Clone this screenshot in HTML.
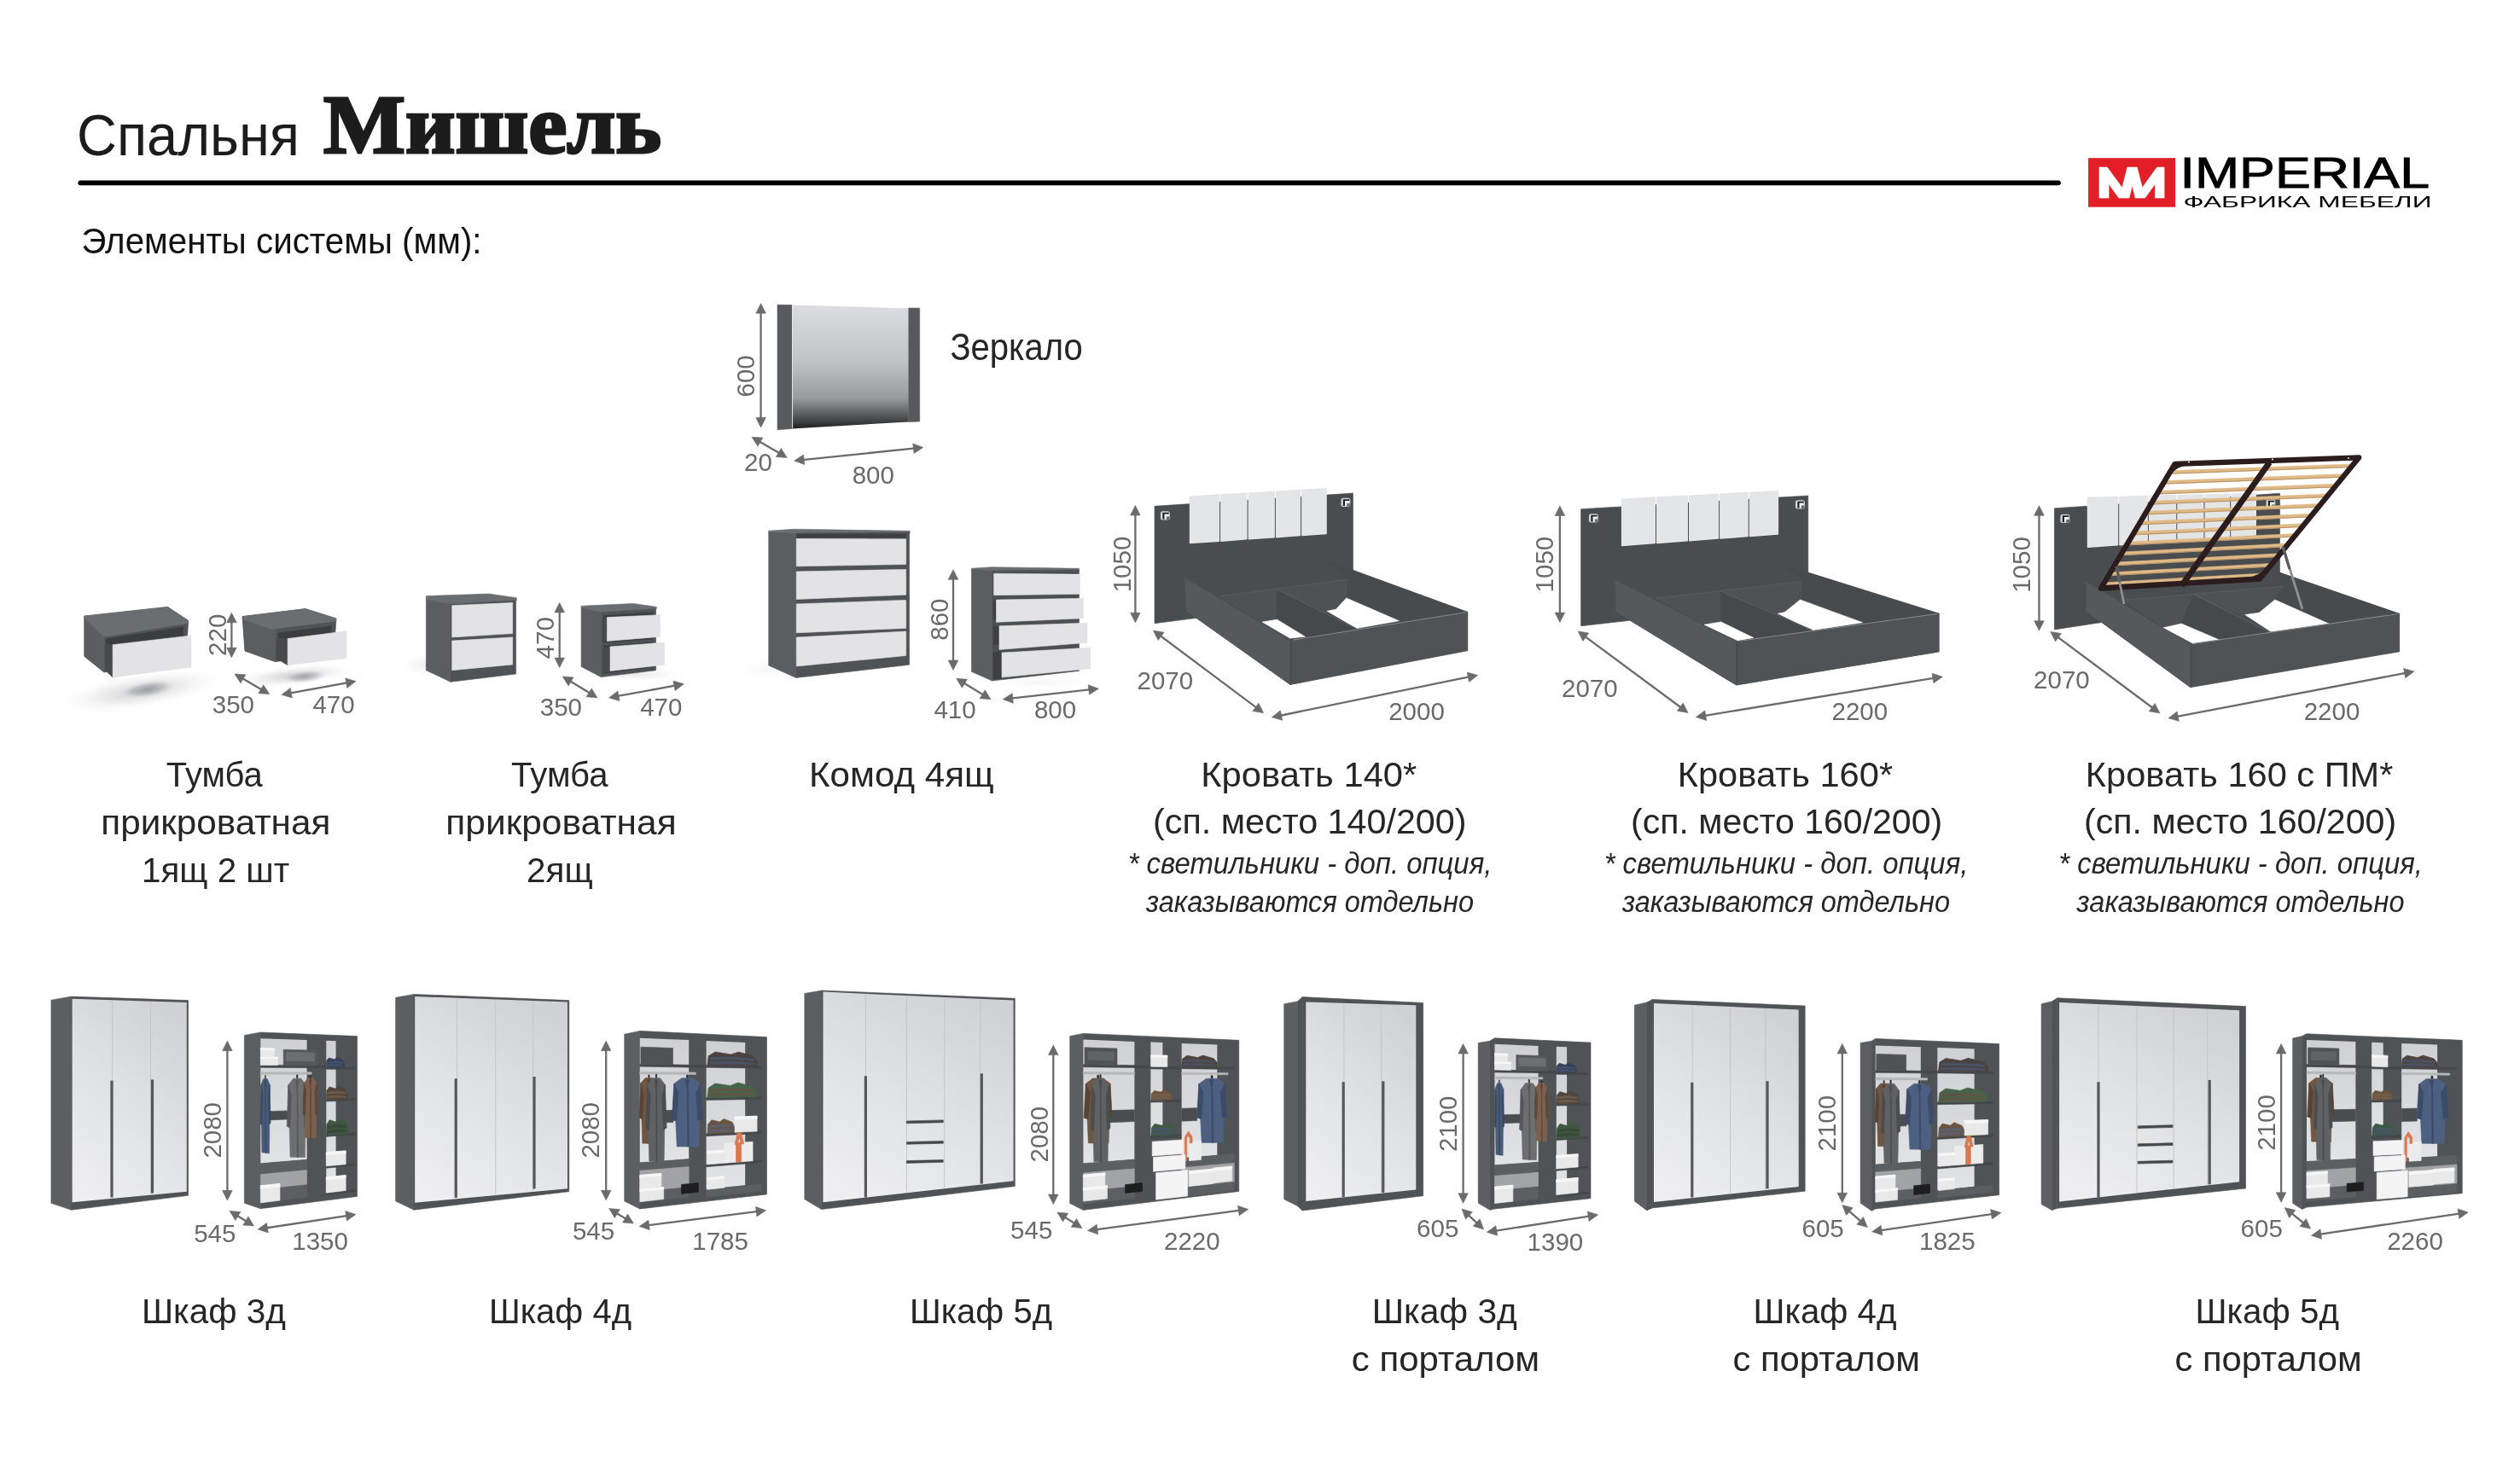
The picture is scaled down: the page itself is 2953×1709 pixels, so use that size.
<!DOCTYPE html>
<html><head><meta charset="utf-8"><style>
html,body{margin:0;padding:0;background:#fff;width:2953px;height:1709px;overflow:hidden}
svg{position:absolute;left:0;top:0;display:block;will-change:transform}
.l,.d{font-family:"Liberation Sans",sans-serif}
.li{font-family:"Liberation Sans",sans-serif;font-style:italic}
.t{font-family:"Liberation Serif",serif;font-weight:bold}
</style></head><body>
<svg width="2953" height="1709" viewBox="0 0 2953 1709">
<defs><radialGradient id="sh"><stop offset="0" stop-color="#9c9c9e" stop-opacity="0.85"/><stop offset="0.5" stop-color="#c8c8ca" stop-opacity="0.5"/><stop offset="1" stop-color="#ffffff" stop-opacity="0"/></radialGradient><radialGradient id="shc"><stop offset="0" stop-color="#9a9ba0" stop-opacity="1"/><stop offset="0.5" stop-color="#aeafb3" stop-opacity="0.6"/><stop offset="1" stop-color="#ffffff" stop-opacity="0"/></radialGradient></defs>
<text x="90" y="182" font-size="69" fill="#1c1c1c" class="l" textLength="261" lengthAdjust="spacingAndGlyphs">Спальня</text>
<text x="379" font-size="98" fill="#1c1c1c" class="t" stroke="#1c1c1c" stroke-width="3" y="178.9" textLength="396" lengthAdjust="spacingAndGlyphs">Мишель</text>
<line x1="94.3" y1="214.3" x2="2412" y2="214.3" stroke="#000" stroke-width="5.8" stroke-linecap="round"/>
<text x="95.5" y="297.1" font-size="42.5" fill="#111" class="l" textLength="469" lengthAdjust="spacingAndGlyphs">Элементы системы (мм):</text>
<rect x="2447.1" y="185.2" width="102" height="57.5" fill="#e21e26"/>
<polygon points="2460,196.1 2469.3,196.1 2486.8,220 2492.9,196.1 2504.3,196.1 2510.4,220 2527.5,196.1 2536.1,196.1 2536.1,232.1 2525.4,232.1 2525.4,215.7 2513.6,232.1 2502.1,232.1 2498.6,217.5 2495,232.1 2482.9,232.1 2471.1,215.7 2471.1,232.1 2460,232.1" fill="#fff" stroke="#fff" stroke-width="0.6"/>
<text x="2554.5" y="220.1" font-size="50" fill="#000" class="l" stroke="#000" stroke-width="0.9" textLength="292.5" lengthAdjust="spacingAndGlyphs">IMPERIAL</text>
<text x="2558.5" y="242.7" font-size="19" fill="#000" class="l" textLength="291" lengthAdjust="spacingAndGlyphs">ФАБРИКА МЕБЕЛИ</text>
<ellipse cx="165" cy="810" rx="105" ry="22" fill="url(#sh)" opacity="0.6" transform="rotate(-9 165 810)"/>
<ellipse cx="173" cy="808" rx="38" ry="11" fill="url(#shc)" opacity="1" transform="rotate(-9 173 808)"/>
<polygon points="98.9,722.1 196.4,711.4 220.7,727.4 218,772 122,788 98.9,769.3" fill="#505355" stroke="#505355" stroke-width="0.6"/>
<polygon points="98.9,722.1 122,745 122,788 98.9,769.3" fill="#5b5e60" stroke="#5b5e60" stroke-width="0.6"/>
<polygon points="98.9,722.1 196.4,711.4 220.7,727.4 220.7,730.5 122,746.5 98.9,724.5" fill="#6b6e70" stroke="#6b6e70" stroke-width="0.6"/>
<polygon points="124.5,749 214.5,735 214.5,772 124.5,786" fill="#3b3d3f" stroke="#3b3d3f" stroke-width="0.6"/>
<polygon points="123.6,755 132.1,755.7 132.1,794 123.6,786" fill="#47494b" stroke="#47494b" stroke-width="0.6"/>
<polygon points="132.1,755.7 224,745 224,782.1 132.1,794" fill="#e3e3e5" stroke="#e3e3e5" stroke-width="0.6"/>
<ellipse cx="345" cy="792" rx="75" ry="13" fill="url(#sh)" opacity="0.6" transform="rotate(-6 345 792)"/>
<ellipse cx="357" cy="793" rx="30" ry="8" fill="url(#shc)" opacity="0.9" transform="rotate(-6 357 793)"/>
<polygon points="284,722.6 357.9,713.6 394,725 391.4,765 322.9,775.7 287,762.9" fill="#505355" stroke="#505355" stroke-width="0.6"/>
<polygon points="284.5,723 322.9,735 322.9,775.7 287,762.9" fill="#5b5e60" stroke="#5b5e60" stroke-width="0.6"/>
<polygon points="284,722.6 357.9,713.6 394,725 394,728 318.4,737.4 284,725.7" fill="#6b6e70" stroke="#6b6e70" stroke-width="0.6"/>
<polygon points="326,742 388,734 388,766 326,774" fill="#3b3d3f" stroke="#3b3d3f" stroke-width="0.6"/>
<polygon points="324.3,747.9 337.1,748.6 337.1,779.7 324.3,772" fill="#47494b" stroke="#47494b" stroke-width="0.6"/>
<polygon points="337.1,748.6 406,739.7 406,771.4 337.1,779.7" fill="#e3e3e5" stroke="#e3e3e5" stroke-width="0.6"/>
<ellipse cx="498" cy="780" rx="30" ry="14" fill="url(#sh)" opacity="0.2" transform="rotate(0 498 780)"/>
<polygon points="499.3,698.6 572.9,696 605.4,700.7 605.4,703.6 527.9,707.9 499.3,702.9" fill="#6b6e70" stroke="#6b6e70" stroke-width="0.6"/>
<polygon points="499.3,702.9 527.9,707.9 527.9,799.3 499.3,785.7" fill="#5b5e60" stroke="#5b5e60" stroke-width="0.6"/>
<polygon points="527.9,707.9 604.6,703.6 604.6,790 527.9,799.3" fill="#505355" stroke="#505355" stroke-width="0.6"/>
<polygon points="529.7,709.7 600.7,706.5 600.7,742.6 529.7,746.9" fill="#e3e3e5" stroke="#e3e3e5" stroke-width="0.6"/>
<polygon points="529.7,751.1 600.7,746.9 600.7,778.9 529.7,785.7" fill="#e3e3e5" stroke="#e3e3e5" stroke-width="0.6"/>
<ellipse cx="740" cy="790" rx="70" ry="9" fill="url(#sh)" opacity="0.3" transform="rotate(0 740 790)"/>
<polygon points="681.1,710.3 742,707.4 769.3,711.4 769.3,713.6 704.3,717.4 681.1,712.5" fill="#6b6e70" stroke="#6b6e70" stroke-width="0.6"/>
<polygon points="681.1,712.5 704.3,717.4 704.3,793.6 681.1,781.4" fill="#5b5e60" stroke="#5b5e60" stroke-width="0.6"/>
<polygon points="704.3,717.4 768.6,713.6 768.6,785.7 704.3,793.6" fill="#505355" stroke="#505355" stroke-width="0.6"/>
<polygon points="707.5,721.5 765,718 765,749 707.5,753" fill="#3b3d3f" stroke="#3b3d3f" stroke-width="0.6"/>
<polygon points="707.5,757 765,753 765,782 707.5,789" fill="#3b3d3f" stroke="#3b3d3f" stroke-width="0.6"/>
<polygon points="705.5,727 711.4,723.6 711.4,751.4 705.5,752" fill="#47494b" stroke="#47494b" stroke-width="0.6"/>
<polygon points="706,760 715,757.9 715,786.4 706,789" fill="#47494b" stroke="#47494b" stroke-width="0.6"/>
<polygon points="711.4,723.6 773.6,720.7 773.6,746.4 711.4,751.4" fill="#e3e3e5" stroke="#e3e3e5" stroke-width="0.6"/>
<polygon points="715,757.9 778.6,753.1 778.6,779.3 715,786.4" fill="#e3e3e5" stroke="#e3e3e5" stroke-width="0.6"/>
<defs><linearGradient id="mg" x1="0" y1="0" x2="0" y2="1"><stop offset="0" stop-color="#dcdde0"/><stop offset="0.45" stop-color="#c2c3c6"/><stop offset="0.75" stop-color="#9a9b9e"/><stop offset="0.92" stop-color="#4a4b4d"/><stop offset="1" stop-color="#1e1f20"/></linearGradient></defs>
<polygon points="911,357.3 928,357.5 928,502.5 911,503.8" fill="#575b5d" stroke="#575b5d" stroke-width="0.6"/>
<polygon points="928,357.5 1064.8,361.4 1064.8,494.5 928,502.5" fill="url(#mg)"/>
<line x1="928.6" y1="358" x2="928.6" y2="502" stroke="#e8e8e8" stroke-width="1"/>
<polygon points="1064.8,361 1077.7,361.2 1077.7,494 1064.8,494.5" fill="#565a5c" stroke="#565a5c" stroke-width="0.6"/>
<ellipse cx="905" cy="785" rx="60" ry="14" fill="url(#sh)" opacity="0.1" transform="rotate(0 905 785)"/>
<polygon points="900.7,622.3 929.7,620.2 1066.2,622.3 1066.2,625.5 932.8,626 900.7,624.5" fill="#6b6e70" stroke="#6b6e70" stroke-width="0.6"/>
<polygon points="900.7,624 932.8,625.5 932.8,794.4 900.7,780" fill="#5b5e60" stroke="#5b5e60" stroke-width="0.6"/>
<polygon points="932.8,625 1065.6,624 1065.6,779.2 932.8,794.4" fill="#505355" stroke="#505355" stroke-width="0.6"/>
<polygon points="934,626 1061.7,626 1061.7,630 934,630" fill="#3e4042" stroke="#3e4042" stroke-width="0.6"/>
<polygon points="933.3,631.5 1061.7,631.7 1061.7,661.5 933.3,663.8" fill="#e3e3e5" stroke="#e3e3e5" stroke-width="0.6"/>
<polygon points="933.3,669.9 1061.7,667.4 1061.7,697.2 933.3,702.5" fill="#e3e3e5" stroke="#e3e3e5" stroke-width="0.6"/>
<polygon points="933.3,707.9 1061.7,703.4 1061.7,736.4 933.3,741.8" fill="#e3e3e5" stroke="#e3e3e5" stroke-width="0.6"/>
<polygon points="933.3,747.1 1061.7,740 1061.7,768.5 933.3,781" fill="#e3e3e5" stroke="#e3e3e5" stroke-width="0.6"/>
<ellipse cx="1220" cy="800" rx="80" ry="8" fill="url(#sh)" opacity="0.1" transform="rotate(0 1220 800)"/>
<polygon points="1138.4,666.3 1162,664.7 1264.5,666.3 1264.5,669 1162.5,670 1138.4,668" fill="#6b6e70" stroke="#6b6e70" stroke-width="0.6"/>
<polygon points="1138.4,667.5 1162.5,669.5 1162.5,798 1138.4,787.3" fill="#5b5e60" stroke="#5b5e60" stroke-width="0.6"/>
<polygon points="1162.5,669 1264.5,668 1264.5,786.4 1162.5,798" fill="#505355" stroke="#505355" stroke-width="0.6"/>
<polygon points="1164,672 1262,671.5 1262,785 1164,796" fill="#3d3f41" stroke="#3d3f41" stroke-width="0.6"/>
<polygon points="1164,698 1262,696 1262,700 1164,703" fill="#4d5052" stroke="#4d5052" stroke-width="0.6"/>
<polygon points="1164,727 1262,725 1262,731 1164,734" fill="#4d5052" stroke="#4d5052" stroke-width="0.6"/>
<polygon points="1164,756 1262,754 1262,761 1164,764" fill="#4d5052" stroke="#4d5052" stroke-width="0.6"/>
<polygon points="1164.6,672.2 1265.6,673.1 1265.6,696.3 1164.6,697.7" fill="#e3e3e5" stroke="#e3e3e5" stroke-width="0.6"/>
<polygon points="1167.5,703.1 1269.5,701.3 1269.5,724.8 1167.5,729.3" fill="#e3e3e5" stroke="#e3e3e5" stroke-width="0.6"/>
<polygon points="1171,733.8 1274,730.2 1274,753.4 1171,761.4" fill="#e3e3e5" stroke="#e3e3e5" stroke-width="0.6"/>
<polygon points="1174,765 1277.9,759.3 1277.9,783.7 1174,794" fill="#e3e3e5" stroke="#e3e3e5" stroke-width="0.6"/>
<polygon points="1353,593.3 1585.5,578.1 1585.5,700 1400.8,724.6 1353,730.7" fill="#4a4d4f" stroke="#4a4d4f" stroke-width="0.6"/>
<polygon points="1394.6,582.2 1428.3,580.1 1428.3,634.1 1394.6,636.5" fill="#e4e5e7" stroke="#e4e5e7" stroke-width="1.6" stroke-linejoin="round"/>
<polygon points="1430.9,580.1 1460.8,578.2 1460.8,631.8 1430.9,634.1" fill="#e4e5e7" stroke="#e4e5e7" stroke-width="1.6" stroke-linejoin="round"/>
<polygon points="1463.4,578.2 1493.1,576.3 1493.1,629.6 1463.4,631.8" fill="#e4e5e7" stroke="#e4e5e7" stroke-width="1.6" stroke-linejoin="round"/>
<polygon points="1495.7,576.3 1523.3,574.5 1523.3,627.4 1495.7,629.6" fill="#e4e5e7" stroke="#e4e5e7" stroke-width="1.6" stroke-linejoin="round"/>
<polygon points="1525.9,574.5 1554,572.8 1554,625.4 1525.9,627.4" fill="#e4e5e7" stroke="#e4e5e7" stroke-width="1.6" stroke-linejoin="round"/>
<rect x="1360.6" y="599.9" width="9.6" height="9" rx="1.8" fill="#f0f0f0" stroke="#c9cacb" stroke-width="1.4"/>
<path d="M1362.3 600.7 h7.4 v1.9 h-5.2 v5.8 h-2.2 z" fill="#1e1f20"/>
<rect x="1366.8" y="605.4" width="3.6" height="3.8" fill="#6a6d6f"/>
<rect x="1572.1" y="584.4" width="9.6" height="9" rx="1.8" fill="#f0f0f0" stroke="#c9cacb" stroke-width="1.4"/>
<path d="M1573.8 585.2 h7.4 v1.9 h-5.2 v5.8 h-2.2 z" fill="#1e1f20"/>
<rect x="1578.3" y="589.9" width="3.6" height="3.8" fill="#6a6d6f"/>
<polygon points="1388,677.3 1556.1,657.7 1719.7,717.4 1719.7,762.6 1511.9,802.4 1390.5,716.3" fill="#4a4d4f" stroke="#4a4d4f" stroke-width="0.6"/>
<polygon points="1556.1,657.7 1719.7,717.4 1682.7,722.3 1641.4,728.1 1577.4,700.7 1578.8,696.6 1578.8,679.2" fill="#484b4d" stroke="#484b4d" stroke-width="0.6"/>
<polygon points="1429.3,699 1578.8,679.2 1578.8,696.6 1561.7,715.6 1554.6,717.3 1496.3,690.7 1496.2,727.2 1479.1,730.6" fill="#4f5254" stroke="#4f5254" stroke-width="0.6"/>
<polygon points="1496.3,690.7 1590.2,737.2 1529.7,746.3 1496.2,727.2" fill="#46494b" stroke="#46494b" stroke-width="0.6"/>
<polygon points="1479,729.1 1496.5,726.2 1529.4,746.2 1511.9,748.2" fill="#ffffff" stroke="#ffffff" stroke-width="0.6"/>
<polygon points="1555.1,716.3 1565.4,714.3 1577.7,700.9 1639.4,727.7 1590,736.5" fill="#ffffff" stroke="#ffffff" stroke-width="0.6"/>
<line x1="1496.3" y1="690.7" x2="1590.2" y2="737.2" stroke="#5f6264" stroke-width="1"/>
<line x1="1429.3" y1="699" x2="1578.8" y2="679.2" stroke="#5a5d5f" stroke-width="1"/>
<polygon points="1388,677.3 1511.9,751.3 1511.9,802.4 1390.5,716.3" fill="#56595b" stroke="#56595b" stroke-width="0.6"/>
<polygon points="1511.9,751.3 1719.7,717.4 1719.7,762.6 1511.9,802.4" fill="#505355" stroke="#505355" stroke-width="0.6"/>
<line x1="1515.9" y1="750.1" x2="1717.7" y2="717.7" stroke="#84878a" stroke-width="1.1"/>
<line x1="1512.9" y1="752.3" x2="1512.9" y2="801" stroke="#46494b" stroke-width="1.5"/>
<polygon points="1852.6,596.7 2118.8,581 2118.8,700 1912,727.1 1852.6,733.8" fill="#4a4d4f" stroke="#4a4d4f" stroke-width="0.6"/>
<polygon points="1900.7,585.2 1939.2,583.1 1939.2,636.5 1900.7,639.4" fill="#e4e5e7" stroke="#e4e5e7" stroke-width="1.6" stroke-linejoin="round"/>
<polygon points="1941.8,583.1 1977.2,581.2 1977.2,633.7 1941.8,636.5" fill="#e4e5e7" stroke="#e4e5e7" stroke-width="1.6" stroke-linejoin="round"/>
<polygon points="1979.8,581.2 2013.3,579.3 2013.3,631 1979.8,633.7" fill="#e4e5e7" stroke="#e4e5e7" stroke-width="1.6" stroke-linejoin="round"/>
<polygon points="2015.9,579.3 2048,577.5 2048,628.5 2015.9,631" fill="#e4e5e7" stroke="#e4e5e7" stroke-width="1.6" stroke-linejoin="round"/>
<polygon points="2050.6,577.5 2083.3,575.7 2083.3,626 2050.6,628.5" fill="#e4e5e7" stroke="#e4e5e7" stroke-width="1.6" stroke-linejoin="round"/>
<rect x="1862.6" y="602.9" width="9.6" height="9" rx="1.8" fill="#f0f0f0" stroke="#c9cacb" stroke-width="1.4"/>
<path d="M1864.3 603.7 h7.4 v1.9 h-5.2 v5.8 h-2.2 z" fill="#1e1f20"/>
<rect x="1868.8" y="608.4" width="3.6" height="3.8" fill="#6a6d6f"/>
<rect x="2104.6" y="586.9" width="9.6" height="9" rx="1.8" fill="#f0f0f0" stroke="#c9cacb" stroke-width="1.4"/>
<path d="M2106.3 587.7 h7.4 v1.9 h-5.2 v5.8 h-2.2 z" fill="#1e1f20"/>
<rect x="2110.8" y="592.4" width="3.6" height="3.8" fill="#6a6d6f"/>
<polygon points="1893,680.1 2085,660.6 2272.1,719.2 2272.1,763.9 2034.6,803 1893,716.7" fill="#4a4d4f" stroke="#4a4d4f" stroke-width="0.6"/>
<polygon points="2085,660.6 2272.1,719.2 2229.8,724 2182.6,729.7 2109.4,702.9 2111,698.8 2111,681.7" fill="#484b4d" stroke="#484b4d" stroke-width="0.6"/>
<polygon points="1940.2,701.3 2111,681.7 2111,698.8 2091.5,717.5 2083.4,719.2 2016.7,693.1 2016.7,728.9 1997.1,732.2" fill="#4f5254" stroke="#4f5254" stroke-width="0.6"/>
<polygon points="2016.7,693.1 2124.1,738.7 2054.9,747.6 2016.7,728.9" fill="#46494b" stroke="#46494b" stroke-width="0.6"/>
<polygon points="1997.1,732.2 2016.7,728.9 2054.9,747.6 2036.2,750.9" fill="#ffffff" stroke="#ffffff" stroke-width="0.6"/>
<polygon points="2083.4,719.2 2091.5,717.5 2109.4,702.9 2182.6,729.7 2124.1,738.7" fill="#ffffff" stroke="#ffffff" stroke-width="0.6"/>
<line x1="2016.7" y1="693.1" x2="2124.1" y2="738.7" stroke="#5f6264" stroke-width="1"/>
<line x1="1940.2" y1="701.3" x2="2111" y2="681.7" stroke="#5a5d5f" stroke-width="1"/>
<polygon points="1893,680.1 2034.6,752.5 2034.6,803 1893,716.7" fill="#56595b" stroke="#56595b" stroke-width="0.6"/>
<polygon points="2034.6,752.5 2272.1,719.2 2272.1,763.9 2034.6,803" fill="#505355" stroke="#505355" stroke-width="0.6"/>
<line x1="2038.6" y1="751.3" x2="2270.1" y2="719.5" stroke="#84878a" stroke-width="1.1"/>
<line x1="2035.6" y1="753.5" x2="2035.6" y2="801.7" stroke="#46494b" stroke-width="1.5"/>
<polygon points="2407.4,595.8 2671.6,578.3 2671.6,700 2460,730 2407.4,738" fill="#4a4d4f" stroke="#4a4d4f" stroke-width="0.6"/>
<polygon points="2446.6,583.4 2481.4,582.5 2481.4,638.7 2446.6,641.3" fill="#e4e5e7" stroke="#e4e5e7" stroke-width="1.6" stroke-linejoin="round"/>
<polygon points="2484,582.5 2516.1,581.6 2516.1,636.2 2484,638.7" fill="#e4e5e7" stroke="#e4e5e7" stroke-width="1.6" stroke-linejoin="round"/>
<polygon points="2518.7,581.6 2549.5,580.8 2549.5,633.7 2518.7,636.2" fill="#e4e5e7" stroke="#e4e5e7" stroke-width="1.6" stroke-linejoin="round"/>
<polygon points="2552.1,580.8 2581.7,580 2581.7,631.4 2552.1,633.7" fill="#e4e5e7" stroke="#e4e5e7" stroke-width="1.6" stroke-linejoin="round"/>
<polygon points="2584.3,580 2612.4,579.2 2612.4,629.1 2584.3,631.4" fill="#e4e5e7" stroke="#e4e5e7" stroke-width="1.6" stroke-linejoin="round"/>
<polygon points="2615,579.2 2643.2,578.5 2643.2,627 2615,629.1" fill="#e4e5e7" stroke="#e4e5e7" stroke-width="1.6" stroke-linejoin="round"/>
<rect x="2415.1" y="603.4" width="9.6" height="9" rx="1.8" fill="#f0f0f0" stroke="#c9cacb" stroke-width="1.4"/>
<path d="M2416.8 604.2 h7.4 v1.9 h-5.2 v5.8 h-2.2 z" fill="#1e1f20"/>
<rect x="2421.3" y="608.9" width="3.6" height="3.8" fill="#6a6d6f"/>
<rect x="2656.1" y="585.9" width="9.6" height="9" rx="1.8" fill="#f0f0f0" stroke="#c9cacb" stroke-width="1.4"/>
<path d="M2657.8 586.7 h7.4 v1.9 h-5.2 v5.8 h-2.2 z" fill="#1e1f20"/>
<rect x="2662.3" y="591.4" width="3.6" height="3.8" fill="#6a6d6f"/>
<polygon points="2444.3,682 2665.8,669.3 2811.6,719.4 2811.6,763.7 2566.7,805.6 2444.3,715.9" fill="#4a4d4f" stroke="#4a4d4f" stroke-width="0.6"/>
<polygon points="2665.8,669.3 2811.6,719.4 2768.5,724.8 2720.2,731 2661.1,706.4 2665,702.6 2676,687.3" fill="#484b4d" stroke="#484b4d" stroke-width="0.6"/>
<polygon points="2486.3,703.6 2676,687.3 2665,702.6 2635.7,720.2 2626.8,721.9 2570.9,696.8 2555.7,731.6 2534.6,734.9" fill="#4f5254" stroke="#4f5254" stroke-width="0.6"/>
<polygon points="2570.9,696.8 2659.4,740.7 2588.2,750.3 2555.7,731.6" fill="#46494b" stroke="#46494b" stroke-width="0.6"/>
<polygon points="2535.2,735.7 2556.2,731 2602.9,750.9 2570.2,754.4" fill="#ffffff" stroke="#ffffff" stroke-width="0.6"/>
<polygon points="2630.8,720.6 2647.2,718.2 2665.8,703 2728.8,731 2661.2,740.4" fill="#ffffff" stroke="#ffffff" stroke-width="0.6"/>
<line x1="2570.9" y1="696.8" x2="2659.4" y2="740.7" stroke="#5f6264" stroke-width="1"/>
<line x1="2486.3" y1="703.6" x2="2676" y2="687.3" stroke="#5a5d5f" stroke-width="1"/>
<polygon points="2444.3,682 2566.7,755.5 2566.7,805.6 2444.3,715.9" fill="#56595b" stroke="#56595b" stroke-width="0.6"/>
<polygon points="2566.7,755.5 2811.6,719.4 2811.6,763.7 2566.7,805.6" fill="#505355" stroke="#505355" stroke-width="0.6"/>
<line x1="2570.7" y1="754.3" x2="2809.6" y2="719.7" stroke="#84878a" stroke-width="1.1"/>
<line x1="2567.7" y1="756.5" x2="2567.7" y2="804.2" stroke="#46494b" stroke-width="1.5"/>
<polygon points="2542.7,551.7 2756.5,543.9 2756.5,547.7 2542.7,555.5" fill="#dfb986" stroke="#dfb986" stroke-width="0.6"/>
<line x1="2542.7" y1="555.2" x2="2756.5" y2="547.4" stroke="#b49066" stroke-width="0.9"/>
<polygon points="2535.6,563.6 2747,555.6 2747,559.4 2535.6,567.4" fill="#dfb986" stroke="#dfb986" stroke-width="0.6"/>
<line x1="2535.6" y1="567.1" x2="2747" y2="559.1" stroke="#b49066" stroke-width="0.9"/>
<polygon points="2528.5,575.5 2737.5,567.2 2737.5,571 2528.5,579.3" fill="#dfb986" stroke="#dfb986" stroke-width="0.6"/>
<line x1="2528.5" y1="579" x2="2737.5" y2="570.7" stroke="#b49066" stroke-width="0.9"/>
<polygon points="2521.4,587.5 2727.9,578.9 2727.9,582.7 2521.4,591.3" fill="#dfb986" stroke="#dfb986" stroke-width="0.6"/>
<line x1="2521.4" y1="591" x2="2727.9" y2="582.4" stroke="#b49066" stroke-width="0.9"/>
<polygon points="2514.4,599.4 2718.4,590.5 2718.4,594.3 2514.4,603.2" fill="#dfb986" stroke="#dfb986" stroke-width="0.6"/>
<line x1="2514.4" y1="602.9" x2="2718.4" y2="594" stroke="#b49066" stroke-width="0.9"/>
<polygon points="2507.3,611.3 2708.9,602.2 2708.9,606 2507.3,615.1" fill="#dfb986" stroke="#dfb986" stroke-width="0.6"/>
<line x1="2507.3" y1="614.8" x2="2708.9" y2="605.7" stroke="#b49066" stroke-width="0.9"/>
<polygon points="2500.2,623.3 2699.4,613.8 2699.4,617.6 2500.2,627.1" fill="#dfb986" stroke="#dfb986" stroke-width="0.6"/>
<line x1="2500.2" y1="626.8" x2="2699.4" y2="617.3" stroke="#b49066" stroke-width="0.9"/>
<polygon points="2493.1,635.2 2689.8,625.5 2689.8,629.3 2493.1,639" fill="#dfb986" stroke="#dfb986" stroke-width="0.6"/>
<line x1="2493.1" y1="638.7" x2="2689.8" y2="629" stroke="#b49066" stroke-width="0.9"/>
<polygon points="2486,647.1 2680.3,637.1 2680.3,640.9 2486,650.9" fill="#dfb986" stroke="#dfb986" stroke-width="0.6"/>
<line x1="2486" y1="650.6" x2="2680.3" y2="640.6" stroke="#b49066" stroke-width="0.9"/>
<polygon points="2478.9,659.1 2670.8,648.8 2670.8,652.6 2478.9,662.9" fill="#dfb986" stroke="#dfb986" stroke-width="0.6"/>
<line x1="2478.9" y1="662.6" x2="2670.8" y2="652.3" stroke="#b49066" stroke-width="0.9"/>
<polygon points="2471.9,671 2661.2,660.4 2661.2,664.2 2471.9,674.8" fill="#dfb986" stroke="#dfb986" stroke-width="0.6"/>
<line x1="2471.9" y1="674.5" x2="2661.2" y2="663.9" stroke="#b49066" stroke-width="0.9"/>
<polygon points="2464.8,682.9 2651.7,672 2651.7,675.8 2464.8,686.7" fill="#dfb986" stroke="#dfb986" stroke-width="0.6"/>
<line x1="2464.8" y1="686.4" x2="2651.7" y2="675.5" stroke="#b49066" stroke-width="0.9"/>
<polygon points="2548.5,543.8 2764.3,536.3 2648,678.5 2462,689.5" fill="none" stroke="#2b1d1e" stroke-width="6.3" stroke-linejoin="round"/>
<path d="M2564.5 545.6 Q2549.5 546.3 2541.7 559.1 L2549.5 546.3 Z" fill="#2b1d1e"/>
<path d="M2656.6 664.5 Q2647 676 2632 677.1 L2647 676 Z" fill="#2b1d1e"/>
<line x1="2659.5" y1="542" x2="2556.5" y2="686.5" stroke="#2b1d1e" stroke-width="7"/>
<circle cx="2565" cy="541.5" r="1.1" fill="#d8d8d8"/>
<circle cx="2663" cy="538.5" r="1.1" fill="#d8d8d8"/>
<circle cx="2752" cy="537" r="1.1" fill="#d8d8d8"/>
<line x1="2480.1" y1="664" x2="2489" y2="708" stroke="#8d8e90" stroke-width="2.8"/>
<line x1="2675.2" y1="641" x2="2698" y2="714" stroke="#8d8e90" stroke-width="2.8"/>
<line x1="2480.1" y1="664" x2="2484" y2="682" stroke="#5a5b5d" stroke-width="3.2"/>
<line x1="2675.2" y1="641" x2="2683" y2="667" stroke="#5a5b5d" stroke-width="3.2"/>
<defs><linearGradient id="dg" x1="0.75" y1="0" x2="0.25" y2="1"><stop offset="0" stop-color="#d0d1d4"/><stop offset="0.5" stop-color="#e0e1e3"/><stop offset="1" stop-color="#eeeef0"/></linearGradient><linearGradient id="bk" x1="0" y1="0" x2="0" y2="1"><stop offset="0" stop-color="#cfd0d3"/><stop offset="1" stop-color="#e2e3e5"/></linearGradient></defs>
<polygon points="59.9,1172.2 83.5,1168.1 83.5,1418.3 59.9,1410.3" fill="#5c5f61" stroke="#5c5f61" stroke-width="0.6"/>
<polygon points="83.5,1168.1 220.6,1172.6 220.6,1401.3 83.5,1418.3" fill="#505355" stroke="#505355" stroke-width="0.6"/>
<polygon points="84.6,1170.8 218.8,1174.9 218.8,1396.7 84.6,1409.2" fill="url(#dg)"/>
<line x1="131.7" y1="1173.2" x2="131.7" y2="1403.8" stroke="#c4c5c8" stroke-width="1"/>
<line x1="176.5" y1="1174.6" x2="176.5" y2="1399.6" stroke="#c4c5c8" stroke-width="1"/>
<rect x="129.4" y="1266.6" width="3.2" height="136.9" fill="#55585b"/>
<rect x="176.9" y="1265.5" width="3.2" height="133.1" fill="#55585b"/>
<polygon points="463.6,1169.2 485.1,1165.4 485.1,1418.2 463.6,1408" fill="#5c5f61" stroke="#5c5f61" stroke-width="0.6"/>
<polygon points="485.1,1165.4 666.8,1172.6 666.8,1396.7 485.1,1418.2" fill="#505355" stroke="#505355" stroke-width="0.6"/>
<polygon points="486.2,1168.1 665,1174.4 665,1393.3 486.2,1409.8" fill="url(#dg)"/>
<line x1="535.5" y1="1170.8" x2="535.5" y2="1404.3" stroke="#c4c5c8" stroke-width="1"/>
<line x1="580.8" y1="1172.4" x2="580.8" y2="1400.1" stroke="#c4c5c8" stroke-width="1"/>
<line x1="624.7" y1="1174" x2="624.7" y2="1396" stroke="#c4c5c8" stroke-width="1"/>
<rect x="532.6" y="1264.3" width="3.2" height="139.6" fill="#55585b"/>
<rect x="624.4" y="1262" width="3.2" height="131.3" fill="#55585b"/>
<polygon points="942.8,1164.5 962.6,1161 962.6,1417.5 942.8,1405.8" fill="#5c5f61" stroke="#5c5f61" stroke-width="0.6"/>
<polygon points="962.6,1161 1189.3,1170.3 1189.3,1390.6 962.6,1417.5" fill="#505355" stroke="#505355" stroke-width="0.6"/>
<polygon points="964.5,1162.6 1187.6,1172.6 1187.6,1384.3 964.5,1409.3" fill="url(#dg)"/>
<line x1="1014.4" y1="1165.8" x2="1014.4" y2="1402.7" stroke="#c4c5c8" stroke-width="1"/>
<line x1="1062.4" y1="1168" x2="1062.4" y2="1397.3" stroke="#c4c5c8" stroke-width="1"/>
<line x1="1106.7" y1="1170" x2="1106.7" y2="1392.4" stroke="#c4c5c8" stroke-width="1"/>
<line x1="1148.7" y1="1171.9" x2="1148.7" y2="1387.7" stroke="#c4c5c8" stroke-width="1"/>
<rect x="1012.8" y="1261.2" width="3.2" height="142.3" fill="#55585b"/>
<rect x="1148.7" y="1258.4" width="3.2" height="129.2" fill="#55585b"/>
<polygon points="1062.4,1314 1105.3,1312.9 1105.3,1315.7 1062.4,1316.8" fill="#45484b" stroke="#45484b" stroke-width="0.6"/>
<polygon points="1062.4,1338.5 1105.3,1337.4 1105.3,1340.2 1062.4,1341.3" fill="#45484b" stroke="#45484b" stroke-width="0.6"/>
<polygon points="1062.4,1360.6 1105.3,1359.5 1105.3,1362.3 1062.4,1363.4" fill="#45484b" stroke="#45484b" stroke-width="0.6"/>
<polygon points="1504.7,1176.7 1520.6,1173.8 1520.6,1413.7 1504.7,1405.8" fill="#5c5f61" stroke="#5c5f61" stroke-width="0.6"/>
<polygon points="1520.6,1173.8 1526.2,1168.6 1526.2,1419 1520.6,1413.7" fill="#505355" stroke="#505355" stroke-width="0.6"/>
<polygon points="1526.2,1168.6 1667.7,1175.4 1667.7,1401.7 1526.2,1419" fill="#505355" stroke="#505355" stroke-width="0.6"/>
<polygon points="1530.3,1174.4 1659.3,1178.3 1659.3,1394.5 1530.3,1408" fill="url(#dg)"/>
<line x1="1574.9" y1="1176.7" x2="1574.9" y2="1402.3" stroke="#c4c5c8" stroke-width="1"/>
<line x1="1618.6" y1="1178.1" x2="1618.6" y2="1397.8" stroke="#c4c5c8" stroke-width="1"/>
<rect x="1572.6" y="1268.2" width="3.2" height="134.8" fill="#55585b"/>
<rect x="1619.2" y="1267.3" width="3.2" height="130.6" fill="#55585b"/>
<polygon points="1915.3,1178.3 1929.6,1174.9 1929.6,1418.8 1915.3,1408" fill="#5c5f61" stroke="#5c5f61" stroke-width="0.6"/>
<polygon points="1929.6,1174.9 1936.4,1171.5 1936.4,1415.9 1929.6,1418.8" fill="#505355" stroke="#505355" stroke-width="0.6"/>
<polygon points="1936.4,1171.5 2115.2,1179 2115.2,1396.2 1936.4,1415.9" fill="#505355" stroke="#505355" stroke-width="0.6"/>
<polygon points="1938,1176 2107.7,1183.5 2107.7,1391 1938,1409.1" fill="url(#dg)"/>
<line x1="1983.2" y1="1179" x2="1983.2" y2="1403.3" stroke="#c4c5c8" stroke-width="1"/>
<line x1="2027.6" y1="1181" x2="2027.6" y2="1398.5" stroke="#c4c5c8" stroke-width="1"/>
<line x1="2068.8" y1="1182.8" x2="2068.8" y2="1394.1" stroke="#c4c5c8" stroke-width="1"/>
<rect x="1981.2" y="1268.8" width="3.2" height="134.7" fill="#55585b"/>
<rect x="2069.4" y="1267.2" width="3.2" height="126.1" fill="#55585b"/>
<polygon points="2392.1,1176.8 2404.5,1173.8 2404.5,1418.6 2392.1,1411.6" fill="#5c5f61" stroke="#5c5f61" stroke-width="0.6"/>
<polygon points="2404.5,1173.8 2410.8,1169.8 2410.8,1416.3 2404.5,1418.6" fill="#505355" stroke="#505355" stroke-width="0.6"/>
<polygon points="2410.8,1169.8 2631.6,1179.6 2631.6,1393 2410.8,1416.3" fill="#505355" stroke="#505355" stroke-width="0.6"/>
<polygon points="2413.1,1175 2624.1,1184.3 2624.1,1385.3 2413.1,1408.6" fill="url(#dg)"/>
<line x1="2459" y1="1178" x2="2459" y2="1402.5" stroke="#c4c5c8" stroke-width="1"/>
<line x1="2504" y1="1180" x2="2504" y2="1397.6" stroke="#c4c5c8" stroke-width="1"/>
<line x1="2547.2" y1="1181.9" x2="2547.2" y2="1392.8" stroke="#c4c5c8" stroke-width="1"/>
<line x1="2586.8" y1="1183.7" x2="2586.8" y2="1388.4" stroke="#c4c5c8" stroke-width="1"/>
<rect x="2457.4" y="1268.2" width="3.2" height="135.3" fill="#55585b"/>
<rect x="2587.6" y="1265.9" width="3.2" height="122.4" fill="#55585b"/>
<polygon points="2505.2,1319.8 2546,1318.7 2546,1321.5 2505.2,1322.6" fill="#45484b" stroke="#45484b" stroke-width="0.6"/>
<polygon points="2505.2,1340.8 2546,1339.7 2546,1342.5 2505.2,1343.6" fill="#45484b" stroke="#45484b" stroke-width="0.6"/>
<polygon points="2505.2,1361.3 2546,1360.2 2546,1363 2505.2,1364.1" fill="#45484b" stroke="#45484b" stroke-width="0.6"/>
<polygon points="286.3,1213.4 305.3,1210 305.3,1416.7 286.3,1410.3" fill="#5c5f61" stroke="#5c5f61" stroke-width="0.6"/>
<polygon points="305.3,1210 418.5,1214.5 418.5,1402.4 305.3,1416.7" fill="#505355" stroke="#505355" stroke-width="0.6"/>
<polygon points="305.3,1217.2 359.6,1219.1 359.6,1359.2 305.3,1363.8" fill="url(#bk)"/>
<polygon points="314.9,1302.7 337.6,1301.9 337.6,1312 314.9,1312.9" fill="#4a4d4f" stroke="#4a4d4f" stroke-width="0.6"/>
<polygon points="305.3,1363.8 359.6,1359.2 359.6,1371.5 305.3,1376.6" fill="#5c5f61" stroke="#5c5f61" stroke-width="0.6"/>
<polygon points="305.3,1376.6 359.6,1371.5 359.6,1388.7 305.3,1394.6" fill="#a2a3a5" stroke="#a2a3a5" stroke-width="0.6"/>
<polygon points="305.3,1394.6 359.6,1388.7 359.6,1403.3 305.3,1409.9" fill="#5c5f61" stroke="#5c5f61" stroke-width="0.6"/>
<polygon points="305.3,1248.4 382.3,1249.1 382.3,1251.8 305.3,1251.3" fill="#45484a" stroke="#45484a" stroke-width="0.6"/>
<polygon points="305.3,1256.7 365.1,1256.8 365.1,1259.2 305.3,1259.2" fill="#b5b7b9" stroke="#b5b7b9" stroke-width="0.6"/>
<polygon points="382.3,1219.8 393.6,1220.2 393.6,1397.9 382.3,1399.2" fill="url(#bk)"/>
<polygon points="382.3,1250.9 416,1251.1 416,1253.4 382.3,1253.2" fill="#45484a" stroke="#45484a" stroke-width="0.6"/>
<polygon points="382.3,1288.7 416,1287.8 416,1290.1 382.3,1291" fill="#45484a" stroke="#45484a" stroke-width="0.6"/>
<polygon points="382.3,1330 416,1328 416,1330.2 382.3,1332.3" fill="#45484a" stroke="#45484a" stroke-width="0.6"/>
<polygon points="382.3,1366.8 416,1363.7 416,1366 382.3,1369.2" fill="#45484a" stroke="#45484a" stroke-width="0.6"/>
<polygon points="382.3,1398.2 416,1394.2 416,1396.5 382.3,1400.6" fill="#45484a" stroke="#45484a" stroke-width="0.6"/>
<polygon points="305.3,1228.6 321.5,1229 321.5,1239.2 305.3,1238.9" fill="#e9e9ea" stroke="#e9e9ea" stroke-width="0.6"/>
<polygon points="305.3,1228.6 321.5,1229 321.5,1230.8 305.3,1230.5" fill="#f6f6f6" stroke="#f6f6f6" stroke-width="0.6"/>
<polygon points="305.3,1238.9 325.5,1239.3 325.5,1248.6 305.3,1248.4" fill="#e9e9ea" stroke="#e9e9ea" stroke-width="0.6"/>
<polygon points="305.3,1238.9 325.5,1239.3 325.5,1241 305.3,1240.6" fill="#f6f6f6" stroke="#f6f6f6" stroke-width="0.6"/>
<polygon points="332.2,1230.3 372,1231.2 372,1249 332.2,1248.7" fill="#55585a" stroke="#55585a" stroke-width="0.6"/>
<polygon points="335.2,1233.4 368.7,1234.1 368.7,1243.9 335.2,1243.5" fill="#6c6f71" stroke="#6c6f71" stroke-width="0.6"/>
<polygon points="310.6,1260.6 311.3,1260.6 311.3,1265.5 310.6,1265.5" fill="#2a2a2c" stroke="#2a2a2c" stroke-width="0.6"/>
<polygon points="308.7,1264.6 313.3,1264.6 316.2,1271.6 315.5,1351.9 306.9,1350.7 305.8,1271.7" fill="#4a5b78" stroke="#4a5b78" stroke-width="0.6"/>
<polygon points="316.2,1271.6 317,1316.5 315.2,1318.4 314.4,1283.1" fill="#3a4860" stroke="#3a4860" stroke-width="0.6"/>
<polygon points="305.8,1271.7 307.6,1283.3 306.8,1318.8 305,1317.1" fill="#3a4860" stroke="#3a4860" stroke-width="0.6"/>
<polygon points="310.1,1266.4 311,1279.6 311.7,1266.4" fill="#3a4860" stroke="#3a4860" stroke-width="0.6"/>
<polygon points="310.9,1279.6 311.3,1279.6 311.6,1351.3 311,1351.3" fill="#3a4860" stroke="#3a4860" stroke-width="0.6"/>
<polygon points="347.6,1259.9 348.9,1259.9 348.9,1265.1 347.6,1265.1" fill="#2a2a2c" stroke="#2a2a2c" stroke-width="0.6"/>
<polygon points="343.7,1264.2 352.8,1264.1 358.7,1271.6 357.4,1356.6 340.1,1356.2 337.8,1271.8" fill="#6c6e70" stroke="#6c6e70" stroke-width="0.6"/>
<polygon points="358.7,1271.6 360.3,1319.1 356.7,1321.2 355.1,1283.8" fill="#555759" stroke="#555759" stroke-width="0.6"/>
<polygon points="337.8,1271.8 341.4,1284.1 339.9,1322 336.2,1320.3" fill="#555759" stroke="#555759" stroke-width="0.6"/>
<polygon points="346.4,1266 348.3,1280.2 349.6,1266" fill="#555759" stroke="#555759" stroke-width="0.6"/>
<polygon points="348,1280.2 348.9,1280.1 349.4,1356.4 348.3,1356.4" fill="#555759" stroke="#555759" stroke-width="0.6"/>
<polygon points="363.3,1260.7 364.3,1260.7 364.3,1264.6 363.3,1264.6" fill="#2a2a2c" stroke="#2a2a2c" stroke-width="0.6"/>
<polygon points="360.5,1263.9 367.1,1263.8 371.3,1269.5 370.3,1334 357.9,1333.4 356.2,1269.6" fill="#7a604e" stroke="#7a604e" stroke-width="0.6"/>
<polygon points="371.3,1269.5 372.5,1305.6 369.8,1307.1 368.7,1278.8" fill="#5e4738" stroke="#5e4738" stroke-width="0.6"/>
<polygon points="356.2,1269.6 358.8,1278.9 357.7,1307.6 355.1,1306.3" fill="#5e4738" stroke="#5e4738" stroke-width="0.6"/>
<polygon points="362.5,1265.3 363.8,1276 364.8,1265.3" fill="#5e4738" stroke="#5e4738" stroke-width="0.6"/>
<polygon points="363.6,1276 364.3,1276 364.6,1333.7 363.8,1333.7" fill="#5e4738" stroke="#5e4738" stroke-width="0.6"/>
<polygon points="382.3,1250.9 382.7,1243.3 385.5,1239.9 391.9,1241.7 395.1,1239.5 401.4,1242.4 403.4,1246.5 403.4,1251" fill="#34405a" stroke="#34405a" stroke-width="0.6"/>
<polygon points="383.4,1244.5 393,1243.8 402.4,1245.3 401.8,1246.7 393,1245.8 383.4,1246.2" fill="#45526c" stroke="#45526c" stroke-width="0.6"/>
<polygon points="383.4,1248 394.1,1247.5 402.4,1248.7 402.4,1249.6 383.4,1249.7" fill="#45526c" stroke="#45526c" stroke-width="0.6"/>
<polygon points="382.3,1288.7 382.8,1278.6 386,1273.9 393.4,1276.1 396.9,1273 404.1,1276.7 406.4,1282 406.4,1288.1" fill="#4e4440" stroke="#4e4440" stroke-width="0.6"/>
<polygon points="383.5,1280.1 394.5,1278.9 405.3,1280.5 404.5,1282.3 394.5,1281.5 383.5,1282.5" fill="#6e5a44" stroke="#6e5a44" stroke-width="0.6"/>
<polygon points="383.5,1284.8 395.7,1283.8 405.3,1285.1 405.3,1286.3 383.5,1287.1" fill="#6e5a44" stroke="#6e5a44" stroke-width="0.6"/>
<polygon points="382.3,1330 382.8,1318.2 386.1,1312.7 393.8,1315 397.5,1311.3 405,1315.4 407.5,1321.4 407.5,1328.5" fill="#3f573f" stroke="#3f573f" stroke-width="0.6"/>
<polygon points="383.6,1320 395.1,1318.2 406.2,1319.7 405.5,1321.9 395.1,1321.2 383.6,1322.7" fill="#354a37" stroke="#354a37" stroke-width="0.6"/>
<polygon points="383.6,1325.4 396.3,1323.8 406.2,1325 406.2,1326.4 383.6,1328.1" fill="#354a37" stroke="#354a37" stroke-width="0.6"/>
<polygon points="382.3,1350.7 405.2,1348.9 405.2,1364.7 382.3,1366.8" fill="#e9e9ea" stroke="#e9e9ea" stroke-width="0.6"/>
<polygon points="382.3,1350.7 405.2,1348.9 405.2,1351.8 382.3,1353.6" fill="#f6f6f6" stroke="#f6f6f6" stroke-width="0.6"/>
<polygon points="382.3,1379.8 405.2,1377.5 405.2,1395.5 382.3,1398.2" fill="#e9e9ea" stroke="#e9e9ea" stroke-width="0.6"/>
<polygon points="382.3,1379.8 405.2,1377.5 405.2,1380.7 382.3,1383.1" fill="#f6f6f6" stroke="#f6f6f6" stroke-width="0.6"/>
<polygon points="305.3,1389.8 328,1387.4 328,1407.1 305.3,1409.9" fill="#e9e9ea" stroke="#e9e9ea" stroke-width="0.6"/>
<polygon points="305.3,1389.8 328,1387.4 328,1391 305.3,1393.4" fill="#f6f6f6" stroke="#f6f6f6" stroke-width="0.6"/>
<polygon points="731.7,1212.2 749.8,1208.4 749.8,1417 731.7,1408" fill="#5c5f61" stroke="#5c5f61" stroke-width="0.6"/>
<polygon points="749.8,1208.4 898.5,1215.6 898.5,1400 749.8,1417" fill="#505355" stroke="#505355" stroke-width="0.6"/>
<polygon points="749.8,1216.7 807.2,1219.1 807.2,1358.6 749.8,1362.8" fill="url(#bk)"/>
<polygon points="780.4,1301.5 789,1301.3 789,1315.5 780.4,1315.8" fill="#4a4d4f" stroke="#4a4d4f" stroke-width="0.6"/>
<polygon points="749.8,1362.8 807.2,1358.6 807.2,1367.6 749.8,1372.2" fill="#5c5f61" stroke="#5c5f61" stroke-width="0.6"/>
<polygon points="749.8,1372.2 807.2,1367.6 807.2,1391.5 749.8,1397.2" fill="#a2a3a5" stroke="#a2a3a5" stroke-width="0.6"/>
<polygon points="749.8,1397.2 807.2,1391.5 807.2,1403.3 749.8,1409.5" fill="#5c5f61" stroke="#5c5f61" stroke-width="0.6"/>
<polygon points="749.8,1247.2 827.6,1248.6 827.6,1251.4 749.8,1250.1" fill="#45484a" stroke="#45484a" stroke-width="0.6"/>
<polygon points="749.8,1256.4 815.3,1257.1 815.3,1259.5 749.8,1258.9" fill="#b5b7b9" stroke="#b5b7b9" stroke-width="0.6"/>
<polygon points="827.6,1220 873.2,1221.9 873.2,1389.7 827.6,1394.4" fill="url(#bk)"/>
<polygon points="827.6,1248.4 892.2,1249.6 892.2,1252.2 827.6,1251.2" fill="#45484a" stroke="#45484a" stroke-width="0.6"/>
<polygon points="827.6,1286.6 892.2,1285.8 892.2,1288.4 827.6,1289.4" fill="#45484a" stroke="#45484a" stroke-width="0.6"/>
<polygon points="827.6,1328.9 892.2,1325.8 892.2,1328.4 827.6,1331.7" fill="#45484a" stroke="#45484a" stroke-width="0.6"/>
<polygon points="827.6,1365 892.2,1359.9 892.2,1362.5 827.6,1367.7" fill="#45484a" stroke="#45484a" stroke-width="0.6"/>
<polygon points="827.6,1394.4 892.2,1387.7 892.2,1390.3 827.6,1397.1" fill="#45484a" stroke="#45484a" stroke-width="0.6"/>
<polygon points="827.6,1394.4 892.2,1387.7 892.2,1396.1 827.6,1403.2" fill="#5c5f61" stroke="#5c5f61" stroke-width="0.6"/>
<polygon points="750.9,1227.2 788.5,1228.5 788.5,1247.9 750.9,1247.2" fill="#505355" stroke="#505355" stroke-width="0.6"/>
<polygon points="828.9,1248.4 830.2,1237.7 838.1,1232.9 856.4,1235.9 865.6,1233 882.1,1237.5 887.1,1243.2 887.1,1249.5" fill="#4b4240" stroke="#4b4240" stroke-width="0.6"/>
<polygon points="832,1239.4 859.5,1238.9 884.6,1241.5 883.1,1243.4 859.5,1241.7 832,1241.9" fill="#4a5266" stroke="#4a5266" stroke-width="0.6"/>
<polygon points="832,1244.3 862.5,1244.2 884.6,1246.3 884.6,1247.6 832,1246.8" fill="#4a5266" stroke="#4a5266" stroke-width="0.6"/>
<polygon points="828.9,1286.6 830.1,1275.2 837.9,1269.9 855.7,1272.5 864.7,1269 880.9,1273.3 885.9,1279.1 885.9,1285.8" fill="#47644a" stroke="#47644a" stroke-width="0.6"/>
<polygon points="831.9,1276.9 858.7,1275.6 883.4,1277.5 881.9,1279.5 858.7,1278.5 831.9,1279.5" fill="#5e5644" stroke="#5e5644" stroke-width="0.6"/>
<polygon points="831.9,1282.2 861.7,1281 883.4,1282.5 883.4,1283.9 831.9,1284.8" fill="#5e5644" stroke="#5e5644" stroke-width="0.6"/>
<polygon points="828.9,1328.9 829.6,1317.9 833.8,1312.7 843.4,1314.9 848.2,1311.4 857.8,1315.2 861,1320.8 861,1327.3" fill="#6a5340" stroke="#6a5340" stroke-width="0.6"/>
<polygon points="830.5,1319.6 845,1317.8 859.4,1319.2 858.4,1321.2 845,1320.6 830.5,1322.1" fill="#5a6070" stroke="#5a6070" stroke-width="0.6"/>
<polygon points="830.5,1324.6 846.6,1323 859.4,1324.1 859.4,1325.4 830.5,1327.1" fill="#5a6070" stroke="#5a6070" stroke-width="0.6"/>
<polygon points="861,1309 887.1,1308.2 887.1,1326.1 861,1327.3" fill="#e9e9ea" stroke="#e9e9ea" stroke-width="0.6"/>
<polygon points="861,1309 887.1,1308.2 887.1,1311.4 861,1312.3" fill="#f6f6f6" stroke="#f6f6f6" stroke-width="0.6"/>
<polygon points="848.8,1340.2 882.1,1338.3 882.1,1360.7 848.8,1363.3" fill="#ececec" stroke="#ececec" stroke-width="0.6"/>
<polygon points="861,1341.4 864.1,1327.9 868.6,1327.7 871.7,1340.8 868.6,1341 866.4,1333.5 864.1,1341.2" fill="#d8784f" stroke="#d8784f" stroke-width="0.6"/>
<polygon points="862.5,1339.4 868.6,1339.1 868.6,1361.8 862.5,1362.3" fill="#d8784f" stroke="#d8784f" stroke-width="0.6"/>
<polygon points="828.9,1349.2 848.8,1347.9 848.8,1363.3 828.9,1364.9" fill="#e9e9ea" stroke="#e9e9ea" stroke-width="0.6"/>
<polygon points="828.9,1349.2 848.8,1347.9 848.8,1350.7 828.9,1352.1" fill="#f6f6f6" stroke="#f6f6f6" stroke-width="0.6"/>
<polygon points="828.9,1380.6 848.8,1378.7 848.8,1392.2 828.9,1394.3" fill="#e9e9ea" stroke="#e9e9ea" stroke-width="0.6"/>
<polygon points="828.9,1380.6 848.8,1378.7 848.8,1381.2 828.9,1383" fill="#f6f6f6" stroke="#f6f6f6" stroke-width="0.6"/>
<polygon points="749.8,1377.4 774.9,1375.3 774.9,1391.6 749.8,1394.1" fill="#e9e9ea" stroke="#e9e9ea" stroke-width="0.6"/>
<polygon points="749.8,1377.4 774.9,1375.3 774.9,1378.2 749.8,1380.4" fill="#f6f6f6" stroke="#f6f6f6" stroke-width="0.6"/>
<polygon points="749.8,1394.1 777.7,1391.4 777.7,1405.6 749.8,1408.7" fill="#e9e9ea" stroke="#e9e9ea" stroke-width="0.6"/>
<polygon points="749.8,1394.1 777.7,1391.4 777.7,1393.9 749.8,1396.7" fill="#f6f6f6" stroke="#f6f6f6" stroke-width="0.6"/>
<polygon points="798.4,1388.4 818.4,1386.5 818.4,1397.3 798.4,1399.4" fill="#1e1e20" stroke="#1e1e20" stroke-width="0.6"/>
<polygon points="759.8,1259.9 761.1,1260 761.1,1264.3 759.8,1264.3" fill="#2a2a2c" stroke="#2a2a2c" stroke-width="0.6"/>
<polygon points="756.2,1263.5 764.7,1263.5 770.3,1269.8 769,1340.8 752.8,1340.2 750.7,1269.8" fill="#6e5544" stroke="#6e5544" stroke-width="0.6"/>
<polygon points="770.3,1269.8 771.8,1309.5 768.4,1311.2 766.9,1279.9" fill="#584335" stroke="#584335" stroke-width="0.6"/>
<polygon points="750.7,1269.8 754.1,1280 752.6,1311.7 749.2,1310.2" fill="#584335" stroke="#584335" stroke-width="0.6"/>
<polygon points="758.8,1265.1 760.5,1276.9 761.7,1265.1" fill="#584335" stroke="#584335" stroke-width="0.6"/>
<polygon points="760.3,1276.9 761.1,1276.8 761.5,1340.5 760.5,1340.5" fill="#584335" stroke="#584335" stroke-width="0.6"/>
<polygon points="768.3,1259.3 769.7,1259.3 769.7,1264.7 768.3,1264.7" fill="#2a2a2c" stroke="#2a2a2c" stroke-width="0.6"/>
<polygon points="764.5,1263.7 773.6,1263.8 779.5,1271.7 778.1,1361.7 760.8,1361 758.6,1271.7" fill="#5f6163" stroke="#5f6163" stroke-width="0.6"/>
<polygon points="779.5,1271.7 781.1,1322 777.4,1324.2 775.8,1284.6" fill="#4a4c4e" stroke="#4a4c4e" stroke-width="0.6"/>
<polygon points="758.6,1271.7 762.2,1284.8 760.6,1324.9 757,1323" fill="#4a4c4e" stroke="#4a4c4e" stroke-width="0.6"/>
<polygon points="767.2,1265.7 769,1280.7 770.4,1265.7" fill="#4a4c4e" stroke="#4a4c4e" stroke-width="0.6"/>
<polygon points="768.8,1280.7 769.7,1280.7 770.1,1361.3 769,1361.4" fill="#4a4c4e" stroke="#4a4c4e" stroke-width="0.6"/>
<polygon points="804.5,1260.1 806.6,1260.1 806.6,1264.6 804.5,1264.6" fill="#2a2a2c" stroke="#2a2a2c" stroke-width="0.6"/>
<polygon points="798.7,1263.8 812.2,1263.8 820.8,1270.3 818.8,1344 793.2,1343.9 789.8,1270.3" fill="#4d6080" stroke="#4d6080" stroke-width="0.6"/>
<polygon points="820.8,1270.3 823.1,1311.5 817.8,1313.3 815.5,1280.9" fill="#3c4c68" stroke="#3c4c68" stroke-width="0.6"/>
<polygon points="789.8,1270.3 795.2,1281.1 792.8,1314.1 787.3,1312.7" fill="#3c4c68" stroke="#3c4c68" stroke-width="0.6"/>
<polygon points="802.8,1265.4 805.6,1277.7 807.6,1265.4" fill="#3c4c68" stroke="#3c4c68" stroke-width="0.6"/>
<polygon points="805.2,1277.7 806.6,1277.7 807.3,1343.9 805.6,1344" fill="#3c4c68" stroke="#3c4c68" stroke-width="0.6"/>
<polygon points="1253.7,1214.5 1269.4,1211.4 1269.4,1418.4 1253.7,1410.5" fill="#5c5f61" stroke="#5c5f61" stroke-width="0.6"/>
<polygon points="1269.4,1211.4 1451.8,1219.3 1451.8,1396.5 1269.4,1418.4" fill="#505355" stroke="#505355" stroke-width="0.6"/>
<polygon points="1269.4,1218.6 1329.4,1220.9 1329.4,1359.1 1269.4,1363.8" fill="url(#bk)"/>
<polygon points="1300.2,1301.6 1329.4,1300.8 1329.4,1314.6 1300.2,1315.7" fill="#4a4d4f" stroke="#4a4d4f" stroke-width="0.6"/>
<polygon points="1269.4,1363.8 1329.4,1359.1 1329.4,1369.8 1269.4,1374.9" fill="#5c5f61" stroke="#5c5f61" stroke-width="0.6"/>
<polygon points="1269.4,1374.9 1329.4,1369.8 1329.4,1390.5 1269.4,1396.7" fill="#a2a3a5" stroke="#a2a3a5" stroke-width="0.6"/>
<polygon points="1269.4,1396.7 1329.4,1390.5 1329.4,1404.3 1269.4,1411.2" fill="#5c5f61" stroke="#5c5f61" stroke-width="0.6"/>
<polygon points="1269.4,1247.8 1348.4,1249 1348.4,1251.7 1269.4,1250.7" fill="#45484a" stroke="#45484a" stroke-width="0.6"/>
<polygon points="1269.4,1256.5 1329.6,1257 1329.6,1259.4 1269.4,1259" fill="#b5b7b9" stroke="#b5b7b9" stroke-width="0.6"/>
<polygon points="1348.4,1221.6 1362.4,1222.1 1362.4,1330.5 1348.4,1331.3" fill="url(#bk)"/>
<polygon points="1348.4,1250.1 1383.8,1250.6 1383.8,1253.3 1348.4,1252.9" fill="#45484a" stroke="#45484a" stroke-width="0.6"/>
<polygon points="1348.4,1289.4 1383.8,1288.7 1383.8,1291.3 1348.4,1292.1" fill="#45484a" stroke="#45484a" stroke-width="0.6"/>
<polygon points="1348.4,1331.9 1383.8,1329.9 1383.8,1332.5 1348.4,1334.6" fill="#45484a" stroke="#45484a" stroke-width="0.6"/>
<polygon points="1384.7,1223 1426.3,1224.5 1426.3,1354.2 1384.7,1357.5" fill="url(#bk)"/>
<polygon points="1384.7,1299.2 1402.6,1298.7 1402.6,1313.5 1384.7,1314.2" fill="#4a4d4f" stroke="#4a4d4f" stroke-width="0.6"/>
<polygon points="1384.7,1250.1 1446.3,1250.9 1446.3,1253.4 1384.7,1252.7" fill="#45484a" stroke="#45484a" stroke-width="0.6"/>
<polygon points="1384.7,1257.2 1439,1257.7 1439,1259.8 1384.7,1259.5" fill="#b5b7b9" stroke="#b5b7b9" stroke-width="0.6"/>
<polygon points="1384.7,1357.5 1446.3,1352.6 1446.3,1363.3 1384.7,1368.8" fill="#5c5f61" stroke="#5c5f61" stroke-width="0.6"/>
<polygon points="1384.7,1368.8 1446.3,1363.3 1446.3,1385.6 1384.7,1392.3" fill="#a2a3a5" stroke="#a2a3a5" stroke-width="0.6"/>
<polygon points="1384.7,1392.3 1446.3,1385.6 1446.3,1395.4 1384.7,1402.7" fill="#5c5f61" stroke="#5c5f61" stroke-width="0.6"/>
<polygon points="1271,1227.8 1309,1229 1309,1248.4 1271,1247.9" fill="#505355" stroke="#505355" stroke-width="0.6"/>
<polygon points="1274.9,1232.2 1305.9,1233.1 1305.9,1243.1 1274.9,1242.6" fill="#606365" stroke="#606365" stroke-width="0.6"/>
<polygon points="1348.9,1236.8 1367.9,1237.2 1367.9,1250.4 1348.9,1250.2" fill="#e9e9ea" stroke="#e9e9ea" stroke-width="0.6"/>
<polygon points="1348.9,1236.8 1367.9,1237.2 1367.9,1239.6 1348.9,1239.2" fill="#f6f6f6" stroke="#f6f6f6" stroke-width="0.6"/>
<polygon points="1384.7,1250.1 1385.5,1241.2 1390.9,1237.2 1403.4,1239.5 1409.6,1237 1422.1,1240.6 1426.3,1245.4 1426.3,1250.7" fill="#4d423c" stroke="#4d423c" stroke-width="0.6"/>
<polygon points="1386.8,1242.6 1405.5,1242 1424.2,1244 1422.9,1245.6 1405.5,1244.3 1386.8,1244.6" fill="#4a5266" stroke="#4a5266" stroke-width="0.6"/>
<polygon points="1386.8,1246.7 1407.5,1246.4 1424.2,1248 1424.2,1249 1386.8,1248.7" fill="#4a5266" stroke="#4a5266" stroke-width="0.6"/>
<polygon points="1348.9,1289.3 1349.4,1281.9 1352.6,1278.4 1359.9,1280.1 1363.6,1277.8 1370.9,1280.5 1373.4,1284.4 1373.4,1288.9" fill="#6d5540" stroke="#6d5540" stroke-width="0.6"/>
<polygon points="1350.1,1283 1361.1,1282.1 1372.1,1283.3 1371.4,1284.6 1361.1,1284 1350.1,1284.7" fill="#74604a" stroke="#74604a" stroke-width="0.6"/>
<polygon points="1350.1,1286.5 1362.4,1285.7 1372.1,1286.6 1372.1,1287.5 1350.1,1288.2" fill="#74604a" stroke="#74604a" stroke-width="0.6"/>
<polygon points="1348.9,1331.8 1349.5,1322 1353.1,1317.3 1361.6,1319.2 1365.8,1316 1374.2,1319.3 1377,1324.4 1377,1330.3" fill="#3f5a41" stroke="#3f5a41" stroke-width="0.6"/>
<polygon points="1350.3,1323.4 1363,1321.8 1375.6,1323 1374.8,1324.8 1363,1324.3 1350.3,1325.7" fill="#4a5468" stroke="#4a5468" stroke-width="0.6"/>
<polygon points="1350.3,1328 1364.4,1326.5 1375.6,1327.4 1375.6,1328.6 1350.3,1330.2" fill="#4a5468" stroke="#4a5468" stroke-width="0.6"/>
<polygon points="1285.7,1260.5 1287.6,1260.5 1287.6,1264.7 1285.7,1264.7" fill="#2a2a2c" stroke="#2a2a2c" stroke-width="0.6"/>
<polygon points="1280.4,1264 1292.9,1264 1301,1270.1 1299.1,1340 1275.4,1339.9 1272.3,1270.2" fill="#6e5544" stroke="#6e5544" stroke-width="0.6"/>
<polygon points="1301,1270.1 1303.2,1309.2 1298.2,1310.9 1296,1280.2" fill="#584335" stroke="#584335" stroke-width="0.6"/>
<polygon points="1272.3,1270.2 1277.3,1280.4 1275.1,1311.7 1270.1,1310.3" fill="#584335" stroke="#584335" stroke-width="0.6"/>
<polygon points="1284.1,1265.5 1286.6,1277.2 1288.5,1265.5" fill="#584335" stroke="#584335" stroke-width="0.6"/>
<polygon points="1286.3,1277.2 1287.6,1277.2 1288.2,1339.9 1286.6,1340" fill="#584335" stroke="#584335" stroke-width="0.6"/>
<polygon points="1288.9,1259.7 1290.2,1259.7 1290.2,1265.2 1288.9,1265.2" fill="#2a2a2c" stroke="#2a2a2c" stroke-width="0.6"/>
<polygon points="1285.3,1264.2 1293.8,1264.2 1299.4,1272.1 1298.1,1362.4 1281.9,1361.6 1279.7,1272.2" fill="#5f6163" stroke="#5f6163" stroke-width="0.6"/>
<polygon points="1299.4,1272.1 1300.9,1322.6 1297.5,1324.7 1296,1285.1" fill="#4a4c4e" stroke="#4a4c4e" stroke-width="0.6"/>
<polygon points="1279.7,1272.2 1283.2,1285.3 1281.7,1325.5 1278.2,1323.6" fill="#4a4c4e" stroke="#4a4c4e" stroke-width="0.6"/>
<polygon points="1287.8,1266.2 1289.6,1281.2 1290.8,1266.2" fill="#4a4c4e" stroke="#4a4c4e" stroke-width="0.6"/>
<polygon points="1289.3,1281.2 1290.2,1281.2 1290.6,1361.9 1289.6,1362" fill="#4a4c4e" stroke="#4a4c4e" stroke-width="0.6"/>
<polygon points="1419.1,1260.8 1421.1,1260.8 1421.1,1265.1 1419.1,1265.1" fill="#2a2a2c" stroke="#2a2a2c" stroke-width="0.6"/>
<polygon points="1413.4,1264.3 1426.7,1264.3 1435.3,1270.4 1433.3,1339.2 1408.1,1339.4 1404.8,1270.5" fill="#4d6080" stroke="#4d6080" stroke-width="0.6"/>
<polygon points="1435.3,1270.4 1437.7,1308.8 1432.3,1310.5 1430,1280.2" fill="#3c4c68" stroke="#3c4c68" stroke-width="0.6"/>
<polygon points="1404.8,1270.5 1410.1,1280.5 1407.8,1311.5 1402.5,1310.2" fill="#3c4c68" stroke="#3c4c68" stroke-width="0.6"/>
<polygon points="1417.4,1265.8 1420.1,1277.3 1422.1,1265.8" fill="#3c4c68" stroke="#3c4c68" stroke-width="0.6"/>
<polygon points="1419.7,1277.3 1421.1,1277.3 1421.7,1339.2 1420.1,1339.4" fill="#3c4c68" stroke="#3c4c68" stroke-width="0.6"/>
<polygon points="1393.4,1338.2 1407.5,1337.3 1407.5,1359.4 1393.4,1360.6" fill="#ececec" stroke="#ececec" stroke-width="0.6"/>
<polygon points="1388.3,1361 1388.3,1332.8 1392.5,1326.1 1397.1,1332.3 1397.1,1339.8 1394.3,1340 1394.3,1334.4 1392,1330.8 1390.7,1334.6 1390.7,1360.8" fill="#d8784f" stroke="#d8784f" stroke-width="0.6"/>
<polygon points="1393.4,1372.7 1421.7,1370.1 1421.7,1387.4 1393.4,1390.4" fill="#e9e9ea" stroke="#e9e9ea" stroke-width="0.6"/>
<polygon points="1393.4,1372.7 1421.7,1370.1 1421.7,1373.2 1393.4,1375.9" fill="#f6f6f6" stroke="#f6f6f6" stroke-width="0.6"/>
<polygon points="1421.7,1369.2 1443.6,1367.1 1443.6,1384.1 1421.7,1386.5" fill="#e9e9ea" stroke="#e9e9ea" stroke-width="0.6"/>
<polygon points="1421.7,1369.2 1443.6,1367.1 1443.6,1370.2 1421.7,1372.3" fill="#f6f6f6" stroke="#f6f6f6" stroke-width="0.6"/>
<polygon points="1269.4,1377 1294.9,1374.8 1294.9,1391 1269.4,1393.6" fill="#e9e9ea" stroke="#e9e9ea" stroke-width="0.6"/>
<polygon points="1269.4,1377 1294.9,1374.8 1294.9,1377.7 1269.4,1380" fill="#f6f6f6" stroke="#f6f6f6" stroke-width="0.6"/>
<polygon points="1269.4,1392.5 1297.5,1389.7 1297.5,1404.9 1269.4,1408.1" fill="#e9e9ea" stroke="#e9e9ea" stroke-width="0.6"/>
<polygon points="1269.4,1392.5 1297.5,1389.7 1297.5,1392.5 1269.4,1395.3" fill="#f6f6f6" stroke="#f6f6f6" stroke-width="0.6"/>
<polygon points="1318.6,1388.6 1338.7,1386.6 1338.7,1396.4 1318.6,1398.6" fill="#1e1e20" stroke="#1e1e20" stroke-width="0.6"/>
<polygon points="1350.2,1338.2 1386.1,1336 1386.1,1352.3 1350.2,1355" fill="#f4f4f5" stroke="#f4f4f5" stroke-width="0.6"/>
<polygon points="1351.5,1356.5 1388.9,1353.6 1388.9,1369.9 1351.5,1373.3" fill="#f4f4f5" stroke="#f4f4f5" stroke-width="0.6"/>
<polygon points="1354.6,1374.8 1391.6,1371.4 1391.6,1401.9 1354.6,1406.2" fill="#f4f4f5" stroke="#f4f4f5" stroke-width="0.6"/>
<polygon points="1732.2,1222.4 1745.8,1220.2 1745.8,1418.3 1732.2,1410.3" fill="#5c5f61" stroke="#5c5f61" stroke-width="0.6"/>
<polygon points="1745.8,1220.2 1751.5,1216.8 1751.5,1417.1 1745.8,1418.3" fill="#505355" stroke="#505355" stroke-width="0.6"/>
<polygon points="1751.5,1216.8 1864,1222 1864,1404.7 1751.5,1417.1" fill="#505355" stroke="#505355" stroke-width="0.6"/>
<polygon points="1751.5,1223.8 1802.6,1225.9 1802.6,1362.2 1751.5,1365.8" fill="url(#bk)"/>
<polygon points="1760.5,1306.7 1781.9,1306.2 1781.9,1316 1760.5,1316.7" fill="#4a4d4f" stroke="#4a4d4f" stroke-width="0.6"/>
<polygon points="1751.5,1365.8 1802.6,1362.2 1802.6,1374.2 1751.5,1378.2" fill="#5c5f61" stroke="#5c5f61" stroke-width="0.6"/>
<polygon points="1751.5,1378.2 1802.6,1374.2 1802.6,1390.9 1751.5,1395.7" fill="#a2a3a5" stroke="#a2a3a5" stroke-width="0.6"/>
<polygon points="1751.5,1395.7 1802.6,1390.9 1802.6,1405.1 1751.5,1410.5" fill="#5c5f61" stroke="#5c5f61" stroke-width="0.6"/>
<polygon points="1751.5,1254.1 1823.8,1255.3 1823.8,1257.9 1751.5,1256.9" fill="#45484a" stroke="#45484a" stroke-width="0.6"/>
<polygon points="1751.5,1262.1 1807.8,1262.7 1807.8,1265 1751.5,1264.5" fill="#b5b7b9" stroke="#b5b7b9" stroke-width="0.6"/>
<polygon points="1823.8,1226.8 1836.1,1227.3 1836.1,1400.3 1823.8,1401.6" fill="url(#bk)"/>
<polygon points="1823.8,1257 1861.2,1257.6 1861.2,1259.8 1823.8,1259.3" fill="#45484a" stroke="#45484a" stroke-width="0.6"/>
<polygon points="1823.8,1293.8 1861.2,1293.3 1861.2,1295.5 1823.8,1296.1" fill="#45484a" stroke="#45484a" stroke-width="0.6"/>
<polygon points="1823.8,1334.1 1861.2,1332.3 1861.2,1334.5 1823.8,1336.4" fill="#45484a" stroke="#45484a" stroke-width="0.6"/>
<polygon points="1823.8,1370 1861.2,1367.1 1861.2,1369.3 1823.8,1372.3" fill="#45484a" stroke="#45484a" stroke-width="0.6"/>
<polygon points="1823.8,1400.6 1861.2,1396.8 1861.2,1399 1823.8,1402.9" fill="#45484a" stroke="#45484a" stroke-width="0.6"/>
<polygon points="1751.5,1234.8 1766.7,1235.3 1766.7,1245.2 1751.5,1244.8" fill="#e9e9ea" stroke="#e9e9ea" stroke-width="0.6"/>
<polygon points="1751.5,1234.8 1766.7,1235.3 1766.7,1237.1 1751.5,1236.6" fill="#f6f6f6" stroke="#f6f6f6" stroke-width="0.6"/>
<polygon points="1751.5,1244.8 1770.5,1245.3 1770.5,1254.4 1751.5,1254.1" fill="#e9e9ea" stroke="#e9e9ea" stroke-width="0.6"/>
<polygon points="1751.5,1244.8 1770.5,1245.3 1770.5,1246.9 1751.5,1246.5" fill="#f6f6f6" stroke="#f6f6f6" stroke-width="0.6"/>
<polygon points="1776.8,1236.6 1814.2,1237.8 1814.2,1255.1 1776.8,1254.5" fill="#55585a" stroke="#55585a" stroke-width="0.6"/>
<polygon points="1779.6,1239.6 1811.1,1240.6 1811.1,1250.1 1779.6,1249.4" fill="#6c6f71" stroke="#6c6f71" stroke-width="0.6"/>
<polygon points="1756.5,1265.9 1757.2,1265.9 1757.2,1270.6 1756.5,1270.6" fill="#2a2a2c" stroke="#2a2a2c" stroke-width="0.6"/>
<polygon points="1754.7,1269.8 1759,1269.8 1761.8,1276.6 1761.1,1354.4 1753,1353.2 1751.9,1276.6" fill="#4a5b78" stroke="#4a5b78" stroke-width="0.6"/>
<polygon points="1761.8,1276.6 1762.5,1320.2 1760.8,1321.9 1760,1287.7" fill="#3a4860" stroke="#3a4860" stroke-width="0.6"/>
<polygon points="1751.9,1276.6 1753.6,1287.8 1752.9,1322.2 1751.2,1320.6" fill="#3a4860" stroke="#3a4860" stroke-width="0.6"/>
<polygon points="1756,1271.5 1756.8,1284.3 1757.5,1271.5" fill="#3a4860" stroke="#3a4860" stroke-width="0.6"/>
<polygon points="1756.7,1284.3 1757.2,1284.3 1757.4,1353.8 1756.8,1353.8" fill="#3a4860" stroke="#3a4860" stroke-width="0.6"/>
<polygon points="1791.2,1265.5 1792.5,1265.5 1792.5,1270.5 1791.2,1270.5" fill="#2a2a2c" stroke="#2a2a2c" stroke-width="0.6"/>
<polygon points="1787.6,1269.6 1796.2,1269.7 1801.7,1276.9 1800.4,1359.7 1784.2,1359 1782.1,1277" fill="#6c6e70" stroke="#6c6e70" stroke-width="0.6"/>
<polygon points="1801.7,1276.9 1803.2,1323.2 1799.8,1325.2 1798.3,1288.8" fill="#555759" stroke="#555759" stroke-width="0.6"/>
<polygon points="1782.1,1277 1785.5,1288.9 1784,1325.8 1780.6,1324.1" fill="#555759" stroke="#555759" stroke-width="0.6"/>
<polygon points="1790.2,1271.5 1791.9,1285.2 1793.2,1271.5" fill="#555759" stroke="#555759" stroke-width="0.6"/>
<polygon points="1791.7,1285.2 1792.5,1285.2 1793,1359.3 1791.9,1359.4" fill="#555759" stroke="#555759" stroke-width="0.6"/>
<polygon points="1806,1266.4 1806.9,1266.4 1806.9,1270.2 1806,1270.2" fill="#2a2a2c" stroke="#2a2a2c" stroke-width="0.6"/>
<polygon points="1803.4,1269.5 1809.5,1269.5 1813.5,1275.1 1812.6,1337.9 1800.9,1337.1 1799.4,1275" fill="#7a604e" stroke="#7a604e" stroke-width="0.6"/>
<polygon points="1813.5,1275.1 1814.6,1310.2 1812.2,1311.7 1811.1,1284" fill="#5e4738" stroke="#5e4738" stroke-width="0.6"/>
<polygon points="1799.4,1275 1801.8,1284.1 1800.8,1312 1798.3,1310.7" fill="#5e4738" stroke="#5e4738" stroke-width="0.6"/>
<polygon points="1805.2,1270.9 1806.5,1281.3 1807.4,1270.9" fill="#5e4738" stroke="#5e4738" stroke-width="0.6"/>
<polygon points="1806.3,1281.3 1806.9,1281.3 1807.2,1337.5 1806.5,1337.5" fill="#5e4738" stroke="#5e4738" stroke-width="0.6"/>
<polygon points="1823.8,1257 1824.3,1249.6 1827.3,1246.3 1834.3,1248.2 1837.8,1246 1844.8,1249 1847.1,1252.9 1847.1,1257.4" fill="#34405a" stroke="#34405a" stroke-width="0.6"/>
<polygon points="1825,1250.8 1835.5,1250.2 1846,1251.8 1845.3,1253.1 1835.5,1252.1 1825,1252.5" fill="#45526c" stroke="#45526c" stroke-width="0.6"/>
<polygon points="1825,1254.2 1836.6,1253.8 1846,1255.1 1846,1256 1825,1255.9" fill="#45526c" stroke="#45526c" stroke-width="0.6"/>
<polygon points="1823.8,1293.8 1824.4,1284 1827.8,1279.5 1835.8,1281.7 1839.8,1278.7 1847.8,1282.4 1850.5,1287.5 1850.5,1293.5" fill="#4e4440" stroke="#4e4440" stroke-width="0.6"/>
<polygon points="1825.2,1285.5 1837.2,1284.4 1849.2,1286.1 1848.4,1287.9 1837.2,1286.9 1825.2,1287.8" fill="#6e5a44" stroke="#6e5a44" stroke-width="0.6"/>
<polygon points="1825.2,1290.1 1838.5,1289.1 1849.2,1290.5 1849.2,1291.7 1825.2,1292.3" fill="#6e5a44" stroke="#6e5a44" stroke-width="0.6"/>
<polygon points="1823.8,1334.1 1824.4,1322.7 1828,1317.3 1836.3,1319.6 1840.5,1316 1848.8,1320 1851.6,1325.9 1851.6,1332.8" fill="#3f573f" stroke="#3f573f" stroke-width="0.6"/>
<polygon points="1825.2,1324.4 1837.7,1322.7 1850.2,1324.2 1849.4,1326.3 1837.7,1325.6 1825.2,1327" fill="#354a37" stroke="#354a37" stroke-width="0.6"/>
<polygon points="1825.2,1329.6 1839.1,1328.2 1850.2,1329.4 1850.2,1330.8 1825.2,1332.3" fill="#354a37" stroke="#354a37" stroke-width="0.6"/>
<polygon points="1823.8,1354.3 1849.2,1352.7 1849.2,1368 1823.8,1370" fill="#e9e9ea" stroke="#e9e9ea" stroke-width="0.6"/>
<polygon points="1823.8,1354.3 1849.2,1352.7 1849.2,1355.4 1823.8,1357.1" fill="#f6f6f6" stroke="#f6f6f6" stroke-width="0.6"/>
<polygon points="1823.8,1382.7 1849.2,1380.4 1849.2,1398 1823.8,1400.6" fill="#e9e9ea" stroke="#e9e9ea" stroke-width="0.6"/>
<polygon points="1823.8,1382.7 1849.2,1380.4 1849.2,1383.6 1823.8,1385.9" fill="#f6f6f6" stroke="#f6f6f6" stroke-width="0.6"/>
<polygon points="1751.5,1391.1 1772.9,1389.1 1772.9,1408.2 1751.5,1410.5" fill="#e9e9ea" stroke="#e9e9ea" stroke-width="0.6"/>
<polygon points="1751.5,1391.1 1772.9,1389.1 1772.9,1392.6 1751.5,1394.6" fill="#f6f6f6" stroke="#f6f6f6" stroke-width="0.6"/>
<polygon points="2180.1,1222.4 2193.2,1220.2 2193.2,1419.3 2180.1,1410.2" fill="#5c5f61" stroke="#5c5f61" stroke-width="0.6"/>
<polygon points="2193.2,1220.2 2197.8,1217.4 2197.8,1417 2193.2,1419.3" fill="#505355" stroke="#505355" stroke-width="0.6"/>
<polygon points="2197.8,1217.4 2342.6,1223.5 2342.6,1400.7 2197.8,1417" fill="#505355" stroke="#505355" stroke-width="0.6"/>
<polygon points="2197.8,1225.4 2250.8,1227.3 2250.8,1361.3 2197.8,1365.1" fill="url(#bk)"/>
<polygon points="2226,1306.4 2234,1306.2 2234,1319.8 2226,1320.1" fill="#4a4d4f" stroke="#4a4d4f" stroke-width="0.6"/>
<polygon points="2197.8,1365.1 2250.8,1361.3 2250.8,1369.9 2197.8,1374.1" fill="#5c5f61" stroke="#5c5f61" stroke-width="0.6"/>
<polygon points="2197.8,1374.1 2250.8,1369.9 2250.8,1392.9 2197.8,1398" fill="#a2a3a5" stroke="#a2a3a5" stroke-width="0.6"/>
<polygon points="2197.8,1398 2250.8,1392.9 2250.8,1404.1 2197.8,1409.8" fill="#5c5f61" stroke="#5c5f61" stroke-width="0.6"/>
<polygon points="2197.8,1254.5 2270.3,1255.5 2270.3,1258.1 2197.8,1257.3" fill="#45484a" stroke="#45484a" stroke-width="0.6"/>
<polygon points="2197.8,1263.3 2258.6,1263.7 2258.6,1266 2197.8,1265.7" fill="#b5b7b9" stroke="#b5b7b9" stroke-width="0.6"/>
<polygon points="2270.3,1228 2313.6,1229.5 2313.6,1391.2 2270.3,1395.6" fill="url(#bk)"/>
<polygon points="2270.3,1255.3 2335.4,1256.2 2335.4,1258.7 2270.3,1257.9" fill="#45484a" stroke="#45484a" stroke-width="0.6"/>
<polygon points="2270.3,1292 2335.4,1291 2335.4,1293.5 2270.3,1294.7" fill="#45484a" stroke="#45484a" stroke-width="0.6"/>
<polygon points="2270.3,1332.7 2335.4,1329.5 2335.4,1332 2270.3,1335.4" fill="#45484a" stroke="#45484a" stroke-width="0.6"/>
<polygon points="2270.3,1367.4 2335.4,1362.3 2335.4,1364.8 2270.3,1370" fill="#45484a" stroke="#45484a" stroke-width="0.6"/>
<polygon points="2270.3,1395.6 2335.4,1389 2335.4,1391.5 2270.3,1398.3" fill="#45484a" stroke="#45484a" stroke-width="0.6"/>
<polygon points="2270.3,1395.6 2335.4,1389 2335.4,1397.1 2270.3,1404.1" fill="#5c5f61" stroke="#5c5f61" stroke-width="0.6"/>
<polygon points="2198.8,1235.4 2233.6,1236.4 2233.6,1255 2198.8,1254.5" fill="#505355" stroke="#505355" stroke-width="0.6"/>
<polygon points="2271.6,1255.3 2272.8,1245 2280.3,1240.4 2297.7,1243.2 2306.4,1240.3 2323.8,1244.5 2329.6,1250 2329.6,1256.1" fill="#4b4240" stroke="#4b4240" stroke-width="0.6"/>
<polygon points="2274.5,1246.6 2300.6,1246 2326.7,1248.4 2324.9,1250.2 2300.6,1248.7 2274.5,1249" fill="#4a5266" stroke="#4a5266" stroke-width="0.6"/>
<polygon points="2274.5,1251.4 2303.5,1251.1 2326.7,1253 2326.7,1254.2 2274.5,1253.8" fill="#4a5266" stroke="#4a5266" stroke-width="0.6"/>
<polygon points="2271.6,1292 2272.8,1281 2280.1,1275.9 2297.1,1278.3 2305.5,1275 2322.5,1279 2328.1,1284.6 2328.1,1291.1" fill="#47644a" stroke="#47644a" stroke-width="0.6"/>
<polygon points="2274.5,1282.7 2299.9,1281.3 2325.3,1283 2323.6,1285 2299.9,1284.1 2274.5,1285.2" fill="#5e5644" stroke="#5e5644" stroke-width="0.6"/>
<polygon points="2274.5,1287.7 2302.7,1286.5 2325.3,1287.9 2325.3,1289.2 2274.5,1290.3" fill="#5e5644" stroke="#5e5644" stroke-width="0.6"/>
<polygon points="2271.6,1332.7 2272.3,1322.1 2276.2,1317.1 2285.3,1319.2 2289.9,1315.8 2299,1319.4 2302.1,1324.8 2302.1,1331.1" fill="#6a5340" stroke="#6a5340" stroke-width="0.6"/>
<polygon points="2273.2,1323.7 2286.9,1322 2300.5,1323.3 2299.6,1325.3 2286.9,1324.7 2273.2,1326.1" fill="#5a6070" stroke="#5a6070" stroke-width="0.6"/>
<polygon points="2273.2,1328.5 2288.4,1327 2300.5,1328.1 2300.5,1329.3 2273.2,1331" fill="#5a6070" stroke="#5a6070" stroke-width="0.6"/>
<polygon points="2302.1,1313.5 2329.6,1312.6 2329.6,1329.8 2302.1,1331.1" fill="#e9e9ea" stroke="#e9e9ea" stroke-width="0.6"/>
<polygon points="2302.1,1313.5 2329.6,1312.6 2329.6,1315.7 2302.1,1316.7" fill="#f6f6f6" stroke="#f6f6f6" stroke-width="0.6"/>
<polygon points="2290.5,1343.6 2323.8,1341.6 2323.8,1363.2 2290.5,1365.8" fill="#ececec" stroke="#ececec" stroke-width="0.6"/>
<polygon points="2302.1,1344.7 2305,1331.7 2309.3,1331.5 2312.2,1344.1 2309.3,1344.3 2307.1,1337.1 2305,1344.5" fill="#d8784f" stroke="#d8784f" stroke-width="0.6"/>
<polygon points="2303.5,1342.8 2309.3,1342.4 2309.3,1364.3 2303.5,1364.8" fill="#d8784f" stroke="#d8784f" stroke-width="0.6"/>
<polygon points="2271.6,1352.2 2290.5,1351 2290.5,1365.8 2271.6,1367.3" fill="#e9e9ea" stroke="#e9e9ea" stroke-width="0.6"/>
<polygon points="2271.6,1352.2 2290.5,1351 2290.5,1353.7 2271.6,1354.9" fill="#f6f6f6" stroke="#f6f6f6" stroke-width="0.6"/>
<polygon points="2271.6,1382.3 2290.5,1380.6 2290.5,1393.6 2271.6,1395.5" fill="#e9e9ea" stroke="#e9e9ea" stroke-width="0.6"/>
<polygon points="2271.6,1382.3 2290.5,1380.6 2290.5,1383 2271.6,1384.7" fill="#f6f6f6" stroke="#f6f6f6" stroke-width="0.6"/>
<polygon points="2197.8,1379.1 2221,1377.1 2221,1392.8 2197.8,1395" fill="#e9e9ea" stroke="#e9e9ea" stroke-width="0.6"/>
<polygon points="2197.8,1379.1 2221,1377.1 2221,1380 2197.8,1382" fill="#f6f6f6" stroke="#f6f6f6" stroke-width="0.6"/>
<polygon points="2197.8,1395 2223.6,1392.6 2223.6,1406.3 2197.8,1409" fill="#e9e9ea" stroke="#e9e9ea" stroke-width="0.6"/>
<polygon points="2197.8,1395 2223.6,1392.6 2223.6,1395 2197.8,1397.6" fill="#f6f6f6" stroke="#f6f6f6" stroke-width="0.6"/>
<polygon points="2242.7,1389.8 2261.5,1388 2261.5,1398.4 2242.7,1400.4" fill="#1e1e20" stroke="#1e1e20" stroke-width="0.6"/>
<polygon points="2207.1,1266.7 2208.2,1266.7 2208.2,1270.8 2207.1,1270.8" fill="#2a2a2c" stroke="#2a2a2c" stroke-width="0.6"/>
<polygon points="2203.7,1270.1 2211.6,1270.1 2216.7,1276.1 2215.5,1344.1 2200.6,1343.5 2198.6,1276.1" fill="#6e5544" stroke="#6e5544" stroke-width="0.6"/>
<polygon points="2216.7,1276.1 2218.1,1314.1 2214.9,1315.7 2213.6,1285.8" fill="#584335" stroke="#584335" stroke-width="0.6"/>
<polygon points="2198.6,1276.1 2201.7,1285.9 2200.4,1316.2 2197.2,1314.8" fill="#584335" stroke="#584335" stroke-width="0.6"/>
<polygon points="2206.1,1271.6 2207.6,1282.9 2208.8,1271.6" fill="#584335" stroke="#584335" stroke-width="0.6"/>
<polygon points="2207.4,1282.9 2208.2,1282.9 2208.6,1343.8 2207.6,1343.8" fill="#584335" stroke="#584335" stroke-width="0.6"/>
<polygon points="2214.9,1266 2216.2,1266 2216.2,1271.2 2214.9,1271.2" fill="#2a2a2c" stroke="#2a2a2c" stroke-width="0.6"/>
<polygon points="2211.3,1270.3 2219.7,1270.3 2225.2,1277.9 2223.9,1364.2 2208,1363.4 2205.9,1278" fill="#5f6163" stroke="#5f6163" stroke-width="0.6"/>
<polygon points="2225.2,1277.9 2226.7,1326.1 2223.3,1328.2 2221.8,1290.2" fill="#4a4c4e" stroke="#4a4c4e" stroke-width="0.6"/>
<polygon points="2205.9,1278 2209.2,1290.4 2207.8,1328.9 2204.4,1327.1" fill="#4a4c4e" stroke="#4a4c4e" stroke-width="0.6"/>
<polygon points="2213.9,1272.2 2215.5,1286.5 2216.8,1272.2" fill="#4a4c4e" stroke="#4a4c4e" stroke-width="0.6"/>
<polygon points="2215.3,1286.5 2216.2,1286.5 2216.6,1363.8 2215.5,1363.9" fill="#4a4c4e" stroke="#4a4c4e" stroke-width="0.6"/>
<polygon points="2248.3,1266.6 2250.2,1266.6 2250.2,1271 2248.3,1271" fill="#2a2a2c" stroke="#2a2a2c" stroke-width="0.6"/>
<polygon points="2242.9,1270.2 2255.6,1270.2 2263.9,1276.4 2262,1347.2 2237.9,1347.1 2234.7,1276.5" fill="#4d6080" stroke="#4d6080" stroke-width="0.6"/>
<polygon points="2263.9,1276.4 2266.1,1315.9 2261,1317.7 2258.8,1286.6" fill="#3c4c68" stroke="#3c4c68" stroke-width="0.6"/>
<polygon points="2234.7,1276.5 2239.8,1286.8 2237.5,1318.5 2232.5,1317.1" fill="#3c4c68" stroke="#3c4c68" stroke-width="0.6"/>
<polygon points="2246.7,1271.8 2249.3,1283.5 2251.2,1271.8" fill="#3c4c68" stroke="#3c4c68" stroke-width="0.6"/>
<polygon points="2249,1283.5 2250.2,1283.5 2250.9,1347.1 2249.3,1347.2" fill="#3c4c68" stroke="#3c4c68" stroke-width="0.6"/>
<polygon points="2686.6,1217 2697.6,1214.6 2697.6,1417.5 2686.6,1410.5" fill="#5c5f61" stroke="#5c5f61" stroke-width="0.6"/>
<polygon points="2697.6,1214.6 2703,1211.8 2703,1415.1 2697.6,1417.5" fill="#505355" stroke="#505355" stroke-width="0.6"/>
<polygon points="2703,1211.8 2885.3,1219.3 2885.3,1398.8 2703,1415.1" fill="#505355" stroke="#505355" stroke-width="0.6"/>
<polygon points="2703,1218.9 2760.4,1221 2760.4,1358.3 2703,1361.4" fill="url(#bk)"/>
<polygon points="2732.5,1300.8 2760.4,1300.3 2760.4,1314 2732.5,1314.7" fill="#4a4d4f" stroke="#4a4d4f" stroke-width="0.6"/>
<polygon points="2703,1361.4 2760.4,1358.3 2760.4,1368.8 2703,1372.4" fill="#5c5f61" stroke="#5c5f61" stroke-width="0.6"/>
<polygon points="2703,1372.4 2760.4,1368.8 2760.4,1389.4 2703,1393.8" fill="#a2a3a5" stroke="#a2a3a5" stroke-width="0.6"/>
<polygon points="2703,1393.8 2760.4,1389.4 2760.4,1403.1 2703,1408" fill="#5c5f61" stroke="#5c5f61" stroke-width="0.6"/>
<polygon points="2703,1247.6 2779.2,1249 2779.2,1251.7 2703,1250.4" fill="#45484a" stroke="#45484a" stroke-width="0.6"/>
<polygon points="2703,1256.1 2760.6,1256.8 2760.6,1259.2 2703,1258.6" fill="#b5b7b9" stroke="#b5b7b9" stroke-width="0.6"/>
<polygon points="2779.2,1221.7 2792.7,1222.2 2792.7,1330.4 2779.2,1330.9" fill="url(#bk)"/>
<polygon points="2779.2,1250.1 2813.3,1250.7 2813.3,1253.4 2779.2,1252.8" fill="#45484a" stroke="#45484a" stroke-width="0.6"/>
<polygon points="2779.2,1289.2 2813.3,1288.9 2813.3,1291.5 2779.2,1291.9" fill="#45484a" stroke="#45484a" stroke-width="0.6"/>
<polygon points="2779.2,1331.5 2813.3,1330.2 2813.3,1332.9 2779.2,1334.2" fill="#45484a" stroke="#45484a" stroke-width="0.6"/>
<polygon points="2814.2,1223 2856.1,1224.5 2856.1,1355.6 2814.2,1358" fill="url(#bk)"/>
<polygon points="2814.2,1299.4 2832.2,1299.1 2832.2,1314.1 2814.2,1314.5" fill="#4a4d4f" stroke="#4a4d4f" stroke-width="0.6"/>
<polygon points="2814.2,1250.2 2879,1251.3 2879,1253.8 2814.2,1252.8" fill="#45484a" stroke="#45484a" stroke-width="0.6"/>
<polygon points="2814.2,1257.3 2870.7,1258.1 2870.7,1260.2 2814.2,1259.6" fill="#b5b7b9" stroke="#b5b7b9" stroke-width="0.6"/>
<polygon points="2814.2,1358 2879,1354.3 2879,1365.1 2814.2,1369.3" fill="#5c5f61" stroke="#5c5f61" stroke-width="0.6"/>
<polygon points="2814.2,1369.3 2879,1365.1 2879,1387.6 2814.2,1392.9" fill="#a2a3a5" stroke="#a2a3a5" stroke-width="0.6"/>
<polygon points="2814.2,1392.9 2879,1387.6 2879,1397.6 2814.2,1403.3" fill="#5c5f61" stroke="#5c5f61" stroke-width="0.6"/>
<polygon points="2704.6,1227.9 2740.9,1229 2740.9,1248.3 2704.6,1247.6" fill="#505355" stroke="#505355" stroke-width="0.6"/>
<polygon points="2708.2,1232.3 2737.9,1233.1 2737.9,1243 2708.2,1242.4" fill="#606365" stroke="#606365" stroke-width="0.6"/>
<polygon points="2779.7,1236.8 2798,1237.3 2798,1250.5 2779.7,1250.1" fill="#e9e9ea" stroke="#e9e9ea" stroke-width="0.6"/>
<polygon points="2779.7,1236.8 2798,1237.3 2798,1239.7 2779.7,1239.2" fill="#f6f6f6" stroke="#f6f6f6" stroke-width="0.6"/>
<polygon points="2814.2,1250.2 2815,1241.2 2820.5,1237.2 2833.1,1239.6 2839.4,1237.1 2851.9,1240.8 2856.1,1245.6 2856.1,1250.9" fill="#4d423c" stroke="#4d423c" stroke-width="0.6"/>
<polygon points="2816.3,1242.6 2835.2,1242.1 2854,1244.2 2852.8,1245.8 2835.2,1244.4 2816.3,1244.7" fill="#4a5266" stroke="#4a5266" stroke-width="0.6"/>
<polygon points="2816.3,1246.8 2837.3,1246.5 2854,1248.2 2854,1249.3 2816.3,1248.8" fill="#4a5266" stroke="#4a5266" stroke-width="0.6"/>
<polygon points="2779.7,1289.2 2780.2,1281.8 2783.3,1278.3 2790.3,1280 2793.9,1277.8 2800.9,1280.6 2803.3,1284.5 2803.3,1289" fill="#6d5540" stroke="#6d5540" stroke-width="0.6"/>
<polygon points="2780.9,1282.9 2791.5,1282.1 2802.1,1283.4 2801.4,1284.7 2791.5,1284 2780.9,1284.6" fill="#74604a" stroke="#74604a" stroke-width="0.6"/>
<polygon points="2780.9,1286.3 2792.7,1285.7 2802.1,1286.7 2802.1,1287.6 2780.9,1288" fill="#74604a" stroke="#74604a" stroke-width="0.6"/>
<polygon points="2779.7,1331.5 2780.3,1321.7 2783.8,1317.1 2791.9,1319.1 2796,1316 2804.1,1319.5 2806.8,1324.6 2806.8,1330.5" fill="#3f5a41" stroke="#3f5a41" stroke-width="0.6"/>
<polygon points="2781.1,1323.2 2793.3,1321.7 2805.4,1323.1 2804.6,1324.9 2793.3,1324.3 2781.1,1325.4" fill="#4a5468" stroke="#4a5468" stroke-width="0.6"/>
<polygon points="2781.1,1327.7 2794.6,1326.5 2805.4,1327.6 2805.4,1328.8 2781.1,1329.9" fill="#4a5468" stroke="#4a5468" stroke-width="0.6"/>
<polygon points="2718.6,1260.1 2720.4,1260.1 2720.4,1264.3 2718.6,1264.3" fill="#2a2a2c" stroke="#2a2a2c" stroke-width="0.6"/>
<polygon points="2713.5,1263.5 2725.5,1263.6 2733.2,1269.7 2731.4,1338.7 2708.7,1338.1 2705.8,1269.6" fill="#6e5544" stroke="#6e5544" stroke-width="0.6"/>
<polygon points="2733.2,1269.7 2735.3,1308.3 2730.5,1309.9 2728.4,1279.6" fill="#584335" stroke="#584335" stroke-width="0.6"/>
<polygon points="2705.8,1269.6 2710.5,1279.6 2708.5,1310.4 2703.7,1309" fill="#584335" stroke="#584335" stroke-width="0.6"/>
<polygon points="2717.1,1265 2719.5,1276.5 2721.3,1265.1" fill="#584335" stroke="#584335" stroke-width="0.6"/>
<polygon points="2719.2,1276.5 2720.4,1276.5 2721,1338.4 2719.5,1338.4" fill="#584335" stroke="#584335" stroke-width="0.6"/>
<polygon points="2721.7,1259.3 2722.9,1259.4 2722.9,1264.8 2721.7,1264.8" fill="#2a2a2c" stroke="#2a2a2c" stroke-width="0.6"/>
<polygon points="2718.2,1263.7 2726.4,1263.8 2731.7,1271.7 2730.5,1360.7 2714.9,1359.6 2712.9,1271.6" fill="#5f6163" stroke="#5f6163" stroke-width="0.6"/>
<polygon points="2731.7,1271.7 2733.1,1321.5 2729.8,1323.6 2728.4,1284.4" fill="#4a4c4e" stroke="#4a4c4e" stroke-width="0.6"/>
<polygon points="2712.9,1271.6 2716.2,1284.5 2714.7,1324 2711.5,1322.1" fill="#4a4c4e" stroke="#4a4c4e" stroke-width="0.6"/>
<polygon points="2720.7,1265.7 2722.3,1280.5 2723.5,1265.7" fill="#4a4c4e" stroke="#4a4c4e" stroke-width="0.6"/>
<polygon points="2722.1,1280.5 2722.9,1280.5 2723.3,1360.1 2722.3,1360.2" fill="#4a4c4e" stroke="#4a4c4e" stroke-width="0.6"/>
<polygon points="2848.9,1261.2 2850.9,1261.2 2850.9,1265.4 2848.9,1265.4" fill="#2a2a2c" stroke="#2a2a2c" stroke-width="0.6"/>
<polygon points="2843.2,1264.6 2856.6,1264.7 2866.5,1270.9 2864.2,1340.5 2837.8,1340.2 2834.5,1270.8" fill="#4d6080" stroke="#4d6080" stroke-width="0.6"/>
<polygon points="2866.5,1270.9 2869.1,1309.8 2863.1,1311.5 2860.4,1280.8" fill="#3c4c68" stroke="#3c4c68" stroke-width="0.6"/>
<polygon points="2834.5,1270.8 2839.8,1280.9 2837.5,1312.1 2832.1,1310.7" fill="#3c4c68" stroke="#3c4c68" stroke-width="0.6"/>
<polygon points="2847.2,1266.2 2849.9,1277.8 2851.9,1266.2" fill="#3c4c68" stroke="#3c4c68" stroke-width="0.6"/>
<polygon points="2849.5,1277.8 2850.9,1277.8 2851.6,1340.4 2849.9,1340.4" fill="#3c4c68" stroke="#3c4c68" stroke-width="0.6"/>
<polygon points="2823,1338.7 2837.2,1338.1 2837.2,1360.4 2823,1361.2" fill="#ececec" stroke="#ececec" stroke-width="0.6"/>
<polygon points="2817.9,1361.5 2817.9,1333.3 2822.1,1326.5 2826.7,1332.9 2826.7,1340.4 2823.9,1340.5 2823.9,1334.9 2821.6,1331.2 2820.3,1335.1 2820.3,1361.4" fill="#d8784f" stroke="#d8784f" stroke-width="0.6"/>
<polygon points="2823,1373.4 2851.5,1371.5 2851.5,1388.9 2823,1391.2" fill="#e9e9ea" stroke="#e9e9ea" stroke-width="0.6"/>
<polygon points="2823,1373.4 2851.5,1371.5 2851.5,1374.6 2823,1376.6" fill="#f6f6f6" stroke="#f6f6f6" stroke-width="0.6"/>
<polygon points="2851.5,1370.6 2875.9,1368.9 2875.9,1386.1 2851.5,1388" fill="#e9e9ea" stroke="#e9e9ea" stroke-width="0.6"/>
<polygon points="2851.5,1370.6 2875.9,1368.9 2875.9,1372 2851.5,1373.7" fill="#f6f6f6" stroke="#f6f6f6" stroke-width="0.6"/>
<polygon points="2703,1374.4 2727.4,1372.9 2727.4,1388.9 2703,1390.7" fill="#e9e9ea" stroke="#e9e9ea" stroke-width="0.6"/>
<polygon points="2703,1374.4 2727.4,1372.9 2727.4,1375.8 2703,1377.4" fill="#f6f6f6" stroke="#f6f6f6" stroke-width="0.6"/>
<polygon points="2703,1389.7 2729.9,1387.7 2729.9,1402.7 2703,1404.9" fill="#e9e9ea" stroke="#e9e9ea" stroke-width="0.6"/>
<polygon points="2703,1389.7 2729.9,1387.7 2729.9,1390.4 2703,1392.4" fill="#f6f6f6" stroke="#f6f6f6" stroke-width="0.6"/>
<polygon points="2750.1,1387.2 2769.6,1385.8 2769.6,1395.5 2750.1,1397.1" fill="#1e1e20" stroke="#1e1e20" stroke-width="0.6"/>
<polygon points="2781,1337.8 2815.7,1336.4 2815.7,1352.8 2781,1354.6" fill="#f4f4f5" stroke="#f4f4f5" stroke-width="0.6"/>
<polygon points="2782.2,1356.1 2818.4,1354.1 2818.4,1370.5 2782.2,1372.9" fill="#f4f4f5" stroke="#f4f4f5" stroke-width="0.6"/>
<polygon points="2785.2,1374.4 2821.2,1372 2821.2,1402.7 2785.2,1405.8" fill="#f4f4f5" stroke="#f4f4f5" stroke-width="0.6"/>
<text transform="translate(265.4 744.3) rotate(-90)" font-size="29.5" fill="#6a6a6a" text-anchor="middle" class="d">220</text>
<line x1="271.4" y1="727.5" x2="271.4" y2="761.5" stroke="#6b6b6b" stroke-width="2.3"/>
<polygon points="271.4,770.7 265.6,759.2 277.2,759.2" fill="#6b6b6b" stroke="#6b6b6b" stroke-width="0.6"/>
<polygon points="271.4,718.3 265.6,729.8 277.2,729.8" fill="#6b6b6b" stroke="#6b6b6b" stroke-width="0.6"/>
<text x="273.4" y="835.7" font-size="29.5" fill="#6a6a6a" text-anchor="middle" class="d">350</text>
<line x1="283" y1="794.6" x2="307.7" y2="809" stroke="#6b6b6b" stroke-width="2.3"/>
<polygon points="315.7,813.6 302.8,812.8 308.7,802.8" fill="#6b6b6b" stroke="#6b6b6b" stroke-width="0.6"/>
<polygon points="275,790 282,800.8 287.9,790.8" fill="#6b6b6b" stroke="#6b6b6b" stroke-width="0.6"/>
<text x="391" y="835.7" font-size="29.5" fill="#6a6a6a" text-anchor="middle" class="d">470</text>
<line x1="339.1" y1="812.7" x2="407.9" y2="800.2" stroke="#6b6b6b" stroke-width="2.3"/>
<polygon points="417,798.6 406.7,806.4 404.7,794.9" fill="#6b6b6b" stroke="#6b6b6b" stroke-width="0.6"/>
<polygon points="330,814.3 342.3,818 340.3,806.5" fill="#6b6b6b" stroke="#6b6b6b" stroke-width="0.6"/>
<text transform="translate(648.7 747.8) rotate(-90)" font-size="29.5" fill="#6a6a6a" text-anchor="middle" class="d">470</text>
<line x1="655.7" y1="715.6" x2="655.7" y2="773.4" stroke="#6b6b6b" stroke-width="2.3"/>
<polygon points="655.7,782.6 649.9,771.1 661.5,771.1" fill="#6b6b6b" stroke="#6b6b6b" stroke-width="0.6"/>
<polygon points="655.7,706.4 649.9,717.9 661.5,717.9" fill="#6b6b6b" stroke="#6b6b6b" stroke-width="0.6"/>
<text x="657.4" y="839" font-size="29.5" fill="#6a6a6a" text-anchor="middle" class="d">350</text>
<line x1="667.1" y1="797.7" x2="692.2" y2="813.1" stroke="#6b6b6b" stroke-width="2.3"/>
<polygon points="700,817.9 687.2,816.8 693.2,806.9" fill="#6b6b6b" stroke="#6b6b6b" stroke-width="0.6"/>
<polygon points="659.3,792.9 666.1,803.9 672.1,794" fill="#6b6b6b" stroke="#6b6b6b" stroke-width="0.6"/>
<text x="774.8" y="839" font-size="29.5" fill="#6a6a6a" text-anchor="middle" class="d">470</text>
<line x1="722.6" y1="816.2" x2="792.4" y2="803.4" stroke="#6b6b6b" stroke-width="2.3"/>
<polygon points="801.4,801.7 791.1,809.5 789,798.1" fill="#6b6b6b" stroke="#6b6b6b" stroke-width="0.6"/>
<polygon points="713.6,817.9 726,821.5 723.9,810.1" fill="#6b6b6b" stroke="#6b6b6b" stroke-width="0.6"/>
<text transform="translate(884 440.9) rotate(-90)" font-size="29.5" fill="#6a6a6a" text-anchor="middle" class="d">600</text>
<line x1="891.6" y1="364.9" x2="891.6" y2="491.8" stroke="#6b6b6b" stroke-width="2.3"/>
<polygon points="891.6,501 885.8,489.5 897.4,489.5" fill="#6b6b6b" stroke="#6b6b6b" stroke-width="0.6"/>
<polygon points="891.6,355.7 885.8,367.2 897.4,367.2" fill="#6b6b6b" stroke="#6b6b6b" stroke-width="0.6"/>
<text x="888.4" y="552.2" font-size="29.5" fill="#6a6a6a" text-anchor="middle" class="d">20</text>
<line x1="888.9" y1="516.9" x2="914.4" y2="531.8" stroke="#6b6b6b" stroke-width="2.3"/>
<polygon points="922.3,536.4 909.4,535.6 915.3,525.6" fill="#6b6b6b" stroke="#6b6b6b" stroke-width="0.6"/>
<polygon points="881,512.3 888,523.1 893.9,513.1" fill="#6b6b6b" stroke="#6b6b6b" stroke-width="0.6"/>
<text x="1023.3" y="567" font-size="29.5" fill="#6a6a6a" text-anchor="middle" class="d">800</text>
<line x1="939.9" y1="539.1" x2="1072.6" y2="525.4" stroke="#6b6b6b" stroke-width="2.3"/>
<polygon points="1081.8,524.5 1071,531.4 1069.8,519.9" fill="#6b6b6b" stroke="#6b6b6b" stroke-width="0.6"/>
<polygon points="930.7,540 942.7,544.6 941.5,533.1" fill="#6b6b6b" stroke="#6b6b6b" stroke-width="0.6"/>
<text transform="translate(1110.7 726.1) rotate(-90)" font-size="29.5" fill="#6a6a6a" text-anchor="middle" class="d">860</text>
<line x1="1117" y1="677" x2="1117" y2="776.3" stroke="#6b6b6b" stroke-width="2.3"/>
<polygon points="1117,785.5 1111.2,774 1122.8,774" fill="#6b6b6b" stroke="#6b6b6b" stroke-width="0.6"/>
<polygon points="1117,667.8 1111.2,679.3 1122.8,679.3" fill="#6b6b6b" stroke="#6b6b6b" stroke-width="0.6"/>
<text x="1119" y="841.9" font-size="29.5" fill="#6a6a6a" text-anchor="middle" class="d">410</text>
<line x1="1128.5" y1="800.1" x2="1153.1" y2="814.9" stroke="#6b6b6b" stroke-width="2.3"/>
<polygon points="1161,819.7 1148.2,818.7 1154.2,808.8" fill="#6b6b6b" stroke="#6b6b6b" stroke-width="0.6"/>
<polygon points="1120.6,795.3 1127.4,806.2 1133.4,796.3" fill="#6b6b6b" stroke="#6b6b6b" stroke-width="0.6"/>
<text x="1236.5" y="841.7" font-size="29.5" fill="#6a6a6a" text-anchor="middle" class="d">800</text>
<line x1="1184.4" y1="818.7" x2="1278.2" y2="808.2" stroke="#6b6b6b" stroke-width="2.3"/>
<polygon points="1287.3,807.2 1276.5,814.2 1275.2,802.7" fill="#6b6b6b" stroke="#6b6b6b" stroke-width="0.6"/>
<polygon points="1175.3,819.7 1187.4,824.2 1186.1,812.7" fill="#6b6b6b" stroke="#6b6b6b" stroke-width="0.6"/>
<text transform="translate(1325.4 661.5) rotate(-90)" font-size="29.5" fill="#6a6a6a" text-anchor="middle" class="d">1050</text>
<line x1="1330.4" y1="601.7" x2="1330.4" y2="720.5" stroke="#6b6b6b" stroke-width="2.3"/>
<polygon points="1330.4,729.7 1324.6,718.2 1336.2,718.2" fill="#6b6b6b" stroke="#6b6b6b" stroke-width="0.6"/>
<polygon points="1330.4,592.5 1324.6,604 1336.2,604" fill="#6b6b6b" stroke="#6b6b6b" stroke-width="0.6"/>
<text x="1365.3" y="807.7" font-size="29.5" fill="#6a6a6a" text-anchor="middle" class="d">2070</text>
<line x1="1358.8" y1="744.5" x2="1473.2" y2="830.2" stroke="#6b6b6b" stroke-width="2.3"/>
<polygon points="1480.6,835.7 1467.9,833.5 1474.9,824.2" fill="#6b6b6b" stroke="#6b6b6b" stroke-width="0.6"/>
<polygon points="1351.4,739 1357.1,750.5 1364.1,741.2" fill="#6b6b6b" stroke="#6b6b6b" stroke-width="0.6"/>
<text x="1660" y="843.7" font-size="29.5" fill="#6a6a6a" text-anchor="middle" class="d">2000</text>
<line x1="1499.3" y1="839" x2="1722.6" y2="793.2" stroke="#6b6b6b" stroke-width="2.3"/>
<polygon points="1731.6,791.4 1721.5,799.4 1719.2,788" fill="#6b6b6b" stroke="#6b6b6b" stroke-width="0.6"/>
<polygon points="1490.3,840.8 1502.7,844.2 1500.4,832.8" fill="#6b6b6b" stroke="#6b6b6b" stroke-width="0.6"/>
<text transform="translate(1819.9 661.6) rotate(-90)" font-size="29.5" fill="#6a6a6a" text-anchor="middle" class="d">1050</text>
<line x1="1827.9" y1="602.2" x2="1827.9" y2="720.4" stroke="#6b6b6b" stroke-width="2.3"/>
<polygon points="1827.9,729.6 1822.1,718.1 1833.7,718.1" fill="#6b6b6b" stroke="#6b6b6b" stroke-width="0.6"/>
<polygon points="1827.9,593 1822.1,604.5 1833.7,604.5" fill="#6b6b6b" stroke="#6b6b6b" stroke-width="0.6"/>
<text x="1862.8" y="816.7" font-size="29.5" fill="#6a6a6a" text-anchor="middle" class="d">2070</text>
<line x1="1856.5" y1="745.4" x2="1970.7" y2="830" stroke="#6b6b6b" stroke-width="2.3"/>
<polygon points="1978.1,835.5 1965.4,833.3 1972.3,824" fill="#6b6b6b" stroke="#6b6b6b" stroke-width="0.6"/>
<polygon points="1849.1,739.9 1854.9,751.4 1861.8,742.1" fill="#6b6b6b" stroke="#6b6b6b" stroke-width="0.6"/>
<text x="2179.3" y="844.1" font-size="29.5" fill="#6a6a6a" text-anchor="middle" class="d">2200</text>
<line x1="1996.5" y1="839.1" x2="2267.2" y2="794.7" stroke="#6b6b6b" stroke-width="2.3"/>
<polygon points="2276.3,793.2 2265.9,800.8 2264,789.3" fill="#6b6b6b" stroke="#6b6b6b" stroke-width="0.6"/>
<polygon points="1987.4,840.6 1999.7,844.5 1997.8,833" fill="#6b6b6b" stroke="#6b6b6b" stroke-width="0.6"/>
<text transform="translate(2379.1 662) rotate(-90)" font-size="29.5" fill="#6a6a6a" text-anchor="middle" class="d">1050</text>
<line x1="2389.5" y1="602" x2="2389.5" y2="730" stroke="#6b6b6b" stroke-width="2.3"/>
<polygon points="2389.5,739.2 2383.7,727.7 2395.3,727.7" fill="#6b6b6b" stroke="#6b6b6b" stroke-width="0.6"/>
<polygon points="2389.5,592.8 2383.7,604.3 2395.3,604.3" fill="#6b6b6b" stroke="#6b6b6b" stroke-width="0.6"/>
<text x="2415.9" y="807" font-size="29.5" fill="#6a6a6a" text-anchor="middle" class="d">2070</text>
<line x1="2410.2" y1="745.9" x2="2523.6" y2="830.5" stroke="#6b6b6b" stroke-width="2.3"/>
<polygon points="2531,836 2518.3,833.8 2525.2,824.5" fill="#6b6b6b" stroke="#6b6b6b" stroke-width="0.6"/>
<polygon points="2402.8,740.4 2408.6,751.9 2415.5,742.6" fill="#6b6b6b" stroke="#6b6b6b" stroke-width="0.6"/>
<text x="2732.5" y="843.9" font-size="29.5" fill="#6a6a6a" text-anchor="middle" class="d">2200</text>
<line x1="2550" y1="840.1" x2="2820" y2="788.7" stroke="#6b6b6b" stroke-width="2.3"/>
<polygon points="2829,787 2818.8,794.8 2816.6,783.5" fill="#6b6b6b" stroke="#6b6b6b" stroke-width="0.6"/>
<polygon points="2541,841.8 2553.4,845.3 2551.2,834" fill="#6b6b6b" stroke="#6b6b6b" stroke-width="0.6"/>
<text transform="translate(258.8 1324.8) rotate(-90)" font-size="29.5" fill="#6a6a6a" text-anchor="middle" class="d">2080</text>
<line x1="266.4" y1="1229.4" x2="266.4" y2="1397.8" stroke="#6b6b6b" stroke-width="2.3"/>
<polygon points="266.4,1407 260.6,1395.5 272.2,1395.5" fill="#6b6b6b" stroke="#6b6b6b" stroke-width="0.6"/>
<polygon points="266.4,1220.2 260.6,1231.7 272.2,1231.7" fill="#6b6b6b" stroke="#6b6b6b" stroke-width="0.6"/>
<text x="251.8" y="1456.4" font-size="29.5" fill="#6a6a6a" text-anchor="middle" class="d">545</text>
<line x1="276.9" y1="1424.2" x2="289.8" y2="1432.2" stroke="#6b6b6b" stroke-width="2.3"/>
<polygon points="297.6,1437 284.8,1435.9 290.9,1426" fill="#6b6b6b" stroke="#6b6b6b" stroke-width="0.6"/>
<polygon points="269.1,1419.4 275.8,1430.4 281.9,1420.5" fill="#6b6b6b" stroke="#6b6b6b" stroke-width="0.6"/>
<text x="375.1" y="1464.8" font-size="29.5" fill="#6a6a6a" text-anchor="middle" class="d">1350</text>
<line x1="311.2" y1="1439.5" x2="407.8" y2="1424.9" stroke="#6b6b6b" stroke-width="2.3"/>
<polygon points="416.9,1423.5 406.4,1431 404.7,1419.5" fill="#6b6b6b" stroke="#6b6b6b" stroke-width="0.6"/>
<polygon points="302.1,1440.9 314.3,1444.9 312.6,1433.4" fill="#6b6b6b" stroke="#6b6b6b" stroke-width="0.6"/>
<text transform="translate(702 1324.8) rotate(-90)" font-size="29.5" fill="#6a6a6a" text-anchor="middle" class="d">2080</text>
<line x1="710.2" y1="1229.4" x2="710.2" y2="1397.6" stroke="#6b6b6b" stroke-width="2.3"/>
<polygon points="710.2,1406.8 704.4,1395.3 716,1395.3" fill="#6b6b6b" stroke="#6b6b6b" stroke-width="0.6"/>
<polygon points="710.2,1220.2 704.4,1231.7 716,1231.7" fill="#6b6b6b" stroke="#6b6b6b" stroke-width="0.6"/>
<text x="695.5" y="1452.9" font-size="29.5" fill="#6a6a6a" text-anchor="middle" class="d">545</text>
<line x1="721.5" y1="1421.4" x2="734.5" y2="1429.2" stroke="#6b6b6b" stroke-width="2.3"/>
<polygon points="742.4,1434 729.6,1433 735.6,1423.1" fill="#6b6b6b" stroke="#6b6b6b" stroke-width="0.6"/>
<polygon points="713.6,1416.6 720.4,1427.5 726.4,1417.6" fill="#6b6b6b" stroke="#6b6b6b" stroke-width="0.6"/>
<text x="844.1" y="1464.7" font-size="29.5" fill="#6a6a6a" text-anchor="middle" class="d">1785</text>
<line x1="758.3" y1="1436.3" x2="888.5" y2="1419.9" stroke="#6b6b6b" stroke-width="2.3"/>
<polygon points="897.6,1418.8 886.9,1426 885.5,1414.5" fill="#6b6b6b" stroke="#6b6b6b" stroke-width="0.6"/>
<polygon points="749.2,1437.4 761.3,1441.7 759.9,1430.2" fill="#6b6b6b" stroke="#6b6b6b" stroke-width="0.6"/>
<text transform="translate(1228.1 1329.7) rotate(-90)" font-size="29.5" fill="#6a6a6a" text-anchor="middle" class="d">2080</text>
<line x1="1234.3" y1="1234.3" x2="1234.3" y2="1402.4" stroke="#6b6b6b" stroke-width="2.3"/>
<polygon points="1234.3,1411.6 1228.5,1400.1 1240.1,1400.1" fill="#6b6b6b" stroke="#6b6b6b" stroke-width="0.6"/>
<polygon points="1234.3,1225.1 1228.5,1236.6 1240.1,1236.6" fill="#6b6b6b" stroke="#6b6b6b" stroke-width="0.6"/>
<text x="1208.7" y="1451.7" font-size="29.5" fill="#6a6a6a" text-anchor="middle" class="d">545</text>
<line x1="1246.7" y1="1426" x2="1260.2" y2="1434.6" stroke="#6b6b6b" stroke-width="2.3"/>
<polygon points="1268,1439.6 1255.2,1438.3 1261.4,1428.5" fill="#6b6b6b" stroke="#6b6b6b" stroke-width="0.6"/>
<polygon points="1238.9,1421 1245.5,1432.1 1251.7,1422.3" fill="#6b6b6b" stroke="#6b6b6b" stroke-width="0.6"/>
<text x="1396.8" y="1464.9" font-size="29.5" fill="#6a6a6a" text-anchor="middle" class="d">2220</text>
<line x1="1283.7" y1="1441.4" x2="1453.6" y2="1418.7" stroke="#6b6b6b" stroke-width="2.3"/>
<polygon points="1462.7,1417.5 1452.1,1424.8 1450.5,1413.3" fill="#6b6b6b" stroke="#6b6b6b" stroke-width="0.6"/>
<polygon points="1274.6,1442.6 1286.8,1446.8 1285.2,1435.3" fill="#6b6b6b" stroke="#6b6b6b" stroke-width="0.6"/>
<text transform="translate(1707 1317.3) rotate(-90)" font-size="29.5" fill="#6a6a6a" text-anchor="middle" class="d">2100</text>
<line x1="1714.6" y1="1232.8" x2="1714.6" y2="1401.1" stroke="#6b6b6b" stroke-width="2.3"/>
<polygon points="1714.6,1410.3 1708.8,1398.8 1720.4,1398.8" fill="#6b6b6b" stroke="#6b6b6b" stroke-width="0.6"/>
<polygon points="1714.6,1223.6 1708.8,1235.1 1720.4,1235.1" fill="#6b6b6b" stroke="#6b6b6b" stroke-width="0.6"/>
<text x="1684.7" y="1450.3" font-size="29.5" fill="#6a6a6a" text-anchor="middle" class="d">605</text>
<line x1="1719.7" y1="1423.4" x2="1731.9" y2="1434.6" stroke="#6b6b6b" stroke-width="2.3"/>
<polygon points="1738.6,1440.9 1726.2,1437.3 1734.1,1428.8" fill="#6b6b6b" stroke="#6b6b6b" stroke-width="0.6"/>
<polygon points="1713,1417.1 1717.5,1429.2 1725.4,1420.7" fill="#6b6b6b" stroke="#6b6b6b" stroke-width="0.6"/>
<text x="1822.4" y="1465.5" font-size="29.5" fill="#6a6a6a" text-anchor="middle" class="d">1390</text>
<line x1="1751.5" y1="1442.9" x2="1863.5" y2="1425.3" stroke="#6b6b6b" stroke-width="2.3"/>
<polygon points="1872.6,1423.9 1862.1,1431.4 1860.3,1420" fill="#6b6b6b" stroke="#6b6b6b" stroke-width="0.6"/>
<polygon points="1742.4,1444.3 1754.7,1448.2 1752.9,1436.8" fill="#6b6b6b" stroke="#6b6b6b" stroke-width="0.6"/>
<text transform="translate(2151.1 1316.7) rotate(-90)" font-size="29.5" fill="#6a6a6a" text-anchor="middle" class="d">2100</text>
<line x1="2158.8" y1="1232.7" x2="2158.8" y2="1400.6" stroke="#6b6b6b" stroke-width="2.3"/>
<polygon points="2158.8,1409.8 2153,1398.3 2164.6,1398.3" fill="#6b6b6b" stroke="#6b6b6b" stroke-width="0.6"/>
<polygon points="2158.8,1223.5 2153,1235 2164.6,1235" fill="#6b6b6b" stroke="#6b6b6b" stroke-width="0.6"/>
<text x="2136.1" y="1450.2" font-size="29.5" fill="#6a6a6a" text-anchor="middle" class="d">605</text>
<line x1="2165.7" y1="1418.6" x2="2181.4" y2="1432.4" stroke="#6b6b6b" stroke-width="2.3"/>
<polygon points="2188.3,1438.5 2175.8,1435.2 2183.5,1426.5" fill="#6b6b6b" stroke="#6b6b6b" stroke-width="0.6"/>
<polygon points="2158.8,1412.5 2163.6,1424.5 2171.3,1415.8" fill="#6b6b6b" stroke="#6b6b6b" stroke-width="0.6"/>
<text x="2281.8" y="1465.4" font-size="29.5" fill="#6a6a6a" text-anchor="middle" class="d">1825</text>
<line x1="2202.8" y1="1442.4" x2="2335.7" y2="1422.9" stroke="#6b6b6b" stroke-width="2.3"/>
<polygon points="2344.8,1421.6 2334.3,1429 2332.6,1417.5" fill="#6b6b6b" stroke="#6b6b6b" stroke-width="0.6"/>
<polygon points="2193.7,1443.7 2205.9,1447.8 2204.2,1436.3" fill="#6b6b6b" stroke="#6b6b6b" stroke-width="0.6"/>
<text transform="translate(2665.8 1316) rotate(-90)" font-size="29.5" fill="#6a6a6a" text-anchor="middle" class="d">2100</text>
<line x1="2673.1" y1="1232.7" x2="2673.1" y2="1400.1" stroke="#6b6b6b" stroke-width="2.3"/>
<polygon points="2673.1,1409.3 2667.3,1397.8 2678.9,1397.8" fill="#6b6b6b" stroke="#6b6b6b" stroke-width="0.6"/>
<polygon points="2673.1,1223.5 2667.3,1235 2678.9,1235" fill="#6b6b6b" stroke="#6b6b6b" stroke-width="0.6"/>
<text x="2650.2" y="1449.8" font-size="29.5" fill="#6a6a6a" text-anchor="middle" class="d">605</text>
<line x1="2684.4" y1="1421.4" x2="2700.5" y2="1434.5" stroke="#6b6b6b" stroke-width="2.3"/>
<polygon points="2707.6,1440.3 2695,1437.5 2702.4,1428.5" fill="#6b6b6b" stroke="#6b6b6b" stroke-width="0.6"/>
<polygon points="2677.3,1415.6 2682.5,1427.4 2689.9,1418.4" fill="#6b6b6b" stroke="#6b6b6b" stroke-width="0.6"/>
<text x="2830" y="1464.9" font-size="29.5" fill="#6a6a6a" text-anchor="middle" class="d">2260</text>
<line x1="2717.6" y1="1446.9" x2="2883.2" y2="1422.3" stroke="#6b6b6b" stroke-width="2.3"/>
<polygon points="2892.3,1421 2881.8,1428.4 2880.1,1416.9" fill="#6b6b6b" stroke="#6b6b6b" stroke-width="0.6"/>
<polygon points="2708.5,1448.2 2720.7,1452.3 2719,1440.8" fill="#6b6b6b" stroke="#6b6b6b" stroke-width="0.6"/>
<text x="251.3" y="922" font-size="41" fill="#262626" text-anchor="middle" class="l" textLength="112.9" lengthAdjust="spacingAndGlyphs">Тумба</text>
<text x="252.8" y="977.8" font-size="41" fill="#262626" text-anchor="middle" class="l" textLength="269.1" lengthAdjust="spacingAndGlyphs">прикроватная</text>
<text x="252.6" y="1034.4" font-size="41" fill="#262626" text-anchor="middle" class="l" textLength="173.3" lengthAdjust="spacingAndGlyphs">1ящ 2 шт</text>
<text x="655.8" y="922" font-size="41" fill="#262626" text-anchor="middle" class="l" textLength="113.4" lengthAdjust="spacingAndGlyphs">Тумба</text>
<text x="657.5" y="977.8" font-size="41" fill="#262626" text-anchor="middle" class="l" textLength="270.3" lengthAdjust="spacingAndGlyphs">прикроватная</text>
<text x="655.9" y="1034.4" font-size="41" fill="#262626" text-anchor="middle" class="l" textLength="77.7" lengthAdjust="spacingAndGlyphs">2ящ</text>
<text x="1056.4" y="922" font-size="41" fill="#262626" text-anchor="middle" class="l" textLength="216.7" lengthAdjust="spacingAndGlyphs">Комод 4ящ</text>
<text x="1533.8" y="922" font-size="41" fill="#262626" text-anchor="middle" class="l" textLength="253" lengthAdjust="spacingAndGlyphs">Кровать 140*</text>
<text x="1534.8" y="977" font-size="41" fill="#262626" text-anchor="middle" class="l" textLength="367.4" lengthAdjust="spacingAndGlyphs">(сп. место 140/200)</text>
<text x="2091.9" y="922" font-size="41" fill="#262626" text-anchor="middle" class="l" textLength="252.4" lengthAdjust="spacingAndGlyphs">Кровать 160*</text>
<text x="2093.6" y="977" font-size="41" fill="#262626" text-anchor="middle" class="l" textLength="365.1" lengthAdjust="spacingAndGlyphs">(сп. место 160/200)</text>
<text x="2624.1" y="922" font-size="41" fill="#262626" text-anchor="middle" class="l" textLength="360.5" lengthAdjust="spacingAndGlyphs">Кровать 160 с ПМ*</text>
<text x="2625.1" y="977" font-size="41" fill="#262626" text-anchor="middle" class="l" textLength="366" lengthAdjust="spacingAndGlyphs">(сп. место 160/200)</text>
<text x="250.5" y="1550.5" font-size="41" fill="#262626" text-anchor="middle" class="l" textLength="169" lengthAdjust="spacingAndGlyphs">Шкаф 3д</text>
<text x="656.5" y="1550.5" font-size="41" fill="#262626" text-anchor="middle" class="l" textLength="167" lengthAdjust="spacingAndGlyphs">Шкаф 4д</text>
<text x="1149.5" y="1550.5" font-size="41" fill="#262626" text-anchor="middle" class="l" textLength="167" lengthAdjust="spacingAndGlyphs">Шкаф 5д</text>
<text x="1692.8" y="1550.5" font-size="41" fill="#262626" text-anchor="middle" class="l" textLength="170.1" lengthAdjust="spacingAndGlyphs">Шкаф 3д</text>
<text x="1694" y="1607" font-size="41" fill="#262626" text-anchor="middle" class="l" textLength="220.4" lengthAdjust="spacingAndGlyphs">с порталом</text>
<text x="2138.5" y="1550.5" font-size="41" fill="#262626" text-anchor="middle" class="l" textLength="168" lengthAdjust="spacingAndGlyphs">Шкаф 4д</text>
<text x="2140.2" y="1607" font-size="41" fill="#262626" text-anchor="middle" class="l" textLength="219.4" lengthAdjust="spacingAndGlyphs">с порталом</text>
<text x="2656.8" y="1550.5" font-size="41" fill="#262626" text-anchor="middle" class="l" textLength="168.5" lengthAdjust="spacingAndGlyphs">Шкаф 5д</text>
<text x="2658.1" y="1607" font-size="41" fill="#262626" text-anchor="middle" class="l" textLength="219.4" lengthAdjust="spacingAndGlyphs">с порталом</text>
<text x="1535" y="1023.8" font-size="35.5" fill="#262626" text-anchor="middle" class="li" textLength="426.7" lengthAdjust="spacingAndGlyphs">* светильники - доп. опция,</text>
<text x="1535" y="1068.6" font-size="35.5" fill="#262626" text-anchor="middle" class="li" textLength="384" lengthAdjust="spacingAndGlyphs">заказываются отдельно</text>
<text x="2093" y="1023.8" font-size="35.5" fill="#262626" text-anchor="middle" class="li" textLength="426.7" lengthAdjust="spacingAndGlyphs">* светильники - доп. опция,</text>
<text x="2093" y="1068.6" font-size="35.5" fill="#262626" text-anchor="middle" class="li" textLength="384" lengthAdjust="spacingAndGlyphs">заказываются отдельно</text>
<text x="2625.6" y="1023.8" font-size="35.5" fill="#262626" text-anchor="middle" class="li" textLength="426.7" lengthAdjust="spacingAndGlyphs">* светильники - доп. опция,</text>
<text x="2625.6" y="1068.6" font-size="35.5" fill="#262626" text-anchor="middle" class="li" textLength="384" lengthAdjust="spacingAndGlyphs">заказываются отдельно</text>
<text x="1113.4" y="421.8" font-size="44" fill="#262626" class="l" textLength="155.4" lengthAdjust="spacingAndGlyphs">Зеркало</text>
</svg></body></html>
